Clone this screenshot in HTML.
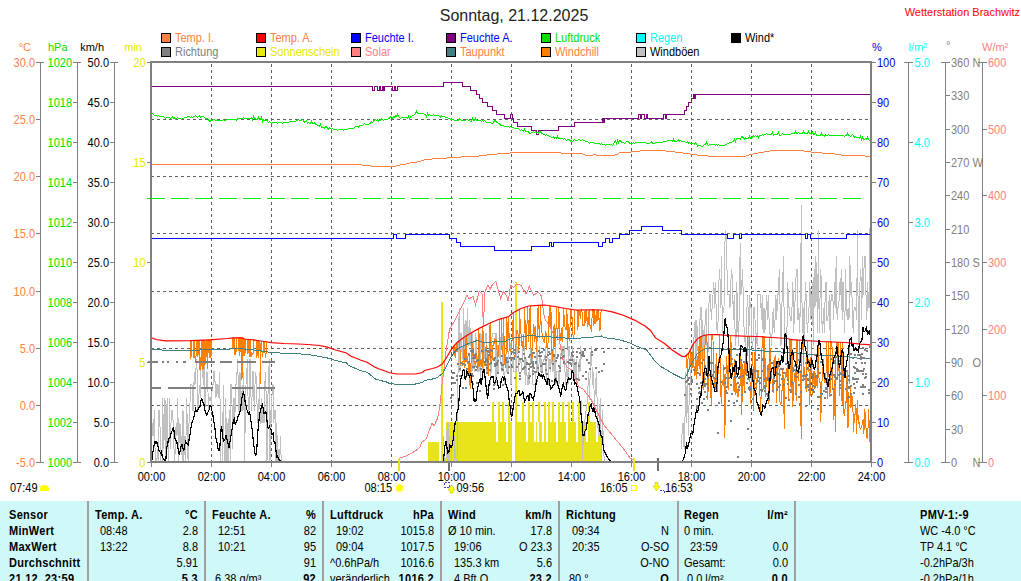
<!DOCTYPE html><html><head><meta charset="utf-8"><title>Wetterstation Brachwitz</title>
<style>html,body{margin:0;padding:0;background:#fff;}body{width:1021px;height:581px;overflow:hidden;}svg{display:block;}text{font-family:"Liberation Sans",sans-serif;}</style>
</head><body>
<svg width="1021" height="581" viewBox="0 0 1021 581">
<rect x="0" y="0" width="1021" height="581" fill="#ffffff"/>
<text x="514" y="21" fill="#222" text-anchor="middle" style="font-size:16px;font-weight:normal" >Sonntag, 21.12.2025</text>
<text x="1020" y="16" fill="#ff0000" text-anchor="end" style="font-size:11px;font-weight:normal" >Wetterstation Brachwitz</text>
<rect x="161.5" y="33.5" width="9" height="9" fill="#ff8040" stroke="#000" stroke-width="1" shape-rendering="crispEdges"/>
<text transform="translate(175,42) scale(1,1.08)" fill="#ff8040" text-anchor="start" style="font-size:11px;font-weight:normal" >Temp. I.</text>
<rect x="256.5" y="33.5" width="9" height="9" fill="#ff0000" stroke="#000" stroke-width="1" shape-rendering="crispEdges"/>
<text transform="translate(270,42) scale(1,1.08)" fill="#ff8040" text-anchor="start" style="font-size:11px;font-weight:normal" >Temp. A.</text>
<rect x="351.5" y="33.5" width="9" height="9" fill="#0000ff" stroke="#000" stroke-width="1" shape-rendering="crispEdges"/>
<text transform="translate(365,42) scale(1,1.08)" fill="#0000ff" text-anchor="start" style="font-size:11px;font-weight:normal" >Feuchte I.</text>
<rect x="446.5" y="33.5" width="9" height="9" fill="#800080" stroke="#000" stroke-width="1" shape-rendering="crispEdges"/>
<text transform="translate(460,42) scale(1,1.08)" fill="#0000ff" text-anchor="start" style="font-size:11px;font-weight:normal" >Feuchte A.</text>
<rect x="541.5" y="33.5" width="9" height="9" fill="#00e000" stroke="#000" stroke-width="1" shape-rendering="crispEdges"/>
<text transform="translate(555,42) scale(1,1.08)" fill="#00e000" text-anchor="start" style="font-size:11px;font-weight:normal" >Luftdruck</text>
<rect x="636.5" y="33.5" width="9" height="9" fill="#00ffff" stroke="#000" stroke-width="1" shape-rendering="crispEdges"/>
<text transform="translate(650,42) scale(1,1.08)" fill="#00ffff" text-anchor="start" style="font-size:11px;font-weight:normal" >Regen</text>
<rect x="731.5" y="33.5" width="9" height="9" fill="#000000" stroke="#000" stroke-width="1" shape-rendering="crispEdges"/>
<text transform="translate(745,42) scale(1,1.08)" fill="#000000" text-anchor="start" style="font-size:11px;font-weight:normal" >Wind*</text>
<rect x="161.5" y="47.5" width="9" height="9" fill="#808080" stroke="#000" stroke-width="1" shape-rendering="crispEdges"/>
<text transform="translate(175,56) scale(1,1.08)" fill="#808080" text-anchor="start" style="font-size:11px;font-weight:normal" >Richtung</text>
<rect x="256.5" y="47.5" width="9" height="9" fill="#e8e818" stroke="#000" stroke-width="1" shape-rendering="crispEdges"/>
<text transform="translate(270,56) scale(1,1.08)" fill="#e6e600" text-anchor="start" style="font-size:11px;font-weight:normal" >Sonnenschein</text>
<rect x="351.5" y="47.5" width="9" height="9" fill="#ff8080" stroke="#000" stroke-width="1" shape-rendering="crispEdges"/>
<text transform="translate(365,56) scale(1,1.08)" fill="#ff8080" text-anchor="start" style="font-size:11px;font-weight:normal" >Solar</text>
<rect x="446.5" y="47.5" width="9" height="9" fill="#408080" stroke="#000" stroke-width="1" shape-rendering="crispEdges"/>
<text transform="translate(460,56) scale(1,1.08)" fill="#ff8040" text-anchor="start" style="font-size:11px;font-weight:normal" >Taupunkt</text>
<rect x="541.5" y="47.5" width="9" height="9" fill="#ff8000" stroke="#000" stroke-width="1" shape-rendering="crispEdges"/>
<text transform="translate(555,56) scale(1,1.08)" fill="#ff8040" text-anchor="start" style="font-size:11px;font-weight:normal" >Windchill</text>
<rect x="636.5" y="47.5" width="9" height="9" fill="#c0c0c0" stroke="#000" stroke-width="1" shape-rendering="crispEdges"/>
<text transform="translate(650,56) scale(1,1.08)" fill="#000000" text-anchor="start" style="font-size:11px;font-weight:normal" >Windböen</text>
<line x1="211.5" y1="62" x2="211.5" y2="462" stroke="#606060" stroke-width="1" shape-rendering="crispEdges" stroke-dasharray="3,3" stroke-dashoffset="4"/>
<line x1="271.5" y1="62" x2="271.5" y2="462" stroke="#606060" stroke-width="1" shape-rendering="crispEdges" stroke-dasharray="3,3" stroke-dashoffset="4"/>
<line x1="331.5" y1="62" x2="331.5" y2="462" stroke="#606060" stroke-width="1" shape-rendering="crispEdges" stroke-dasharray="3,3" stroke-dashoffset="4"/>
<line x1="391.5" y1="62" x2="391.5" y2="462" stroke="#606060" stroke-width="1" shape-rendering="crispEdges" stroke-dasharray="3,3" stroke-dashoffset="4"/>
<line x1="451.5" y1="62" x2="451.5" y2="462" stroke="#606060" stroke-width="1" shape-rendering="crispEdges" stroke-dasharray="3,3" stroke-dashoffset="4"/>
<line x1="511.5" y1="62" x2="511.5" y2="462" stroke="#606060" stroke-width="1" shape-rendering="crispEdges" stroke-dasharray="3,3" stroke-dashoffset="4"/>
<line x1="571.5" y1="62" x2="571.5" y2="462" stroke="#606060" stroke-width="1" shape-rendering="crispEdges" stroke-dasharray="3,3" stroke-dashoffset="4"/>
<line x1="631.5" y1="62" x2="631.5" y2="462" stroke="#606060" stroke-width="1" shape-rendering="crispEdges" stroke-dasharray="3,3" stroke-dashoffset="4"/>
<line x1="691.5" y1="62" x2="691.5" y2="462" stroke="#606060" stroke-width="1" shape-rendering="crispEdges" stroke-dasharray="3,3" stroke-dashoffset="4"/>
<line x1="751.5" y1="62" x2="751.5" y2="462" stroke="#606060" stroke-width="1" shape-rendering="crispEdges" stroke-dasharray="3,3" stroke-dashoffset="4"/>
<line x1="811.5" y1="62" x2="811.5" y2="462" stroke="#606060" stroke-width="1" shape-rendering="crispEdges" stroke-dasharray="3,3" stroke-dashoffset="4"/>
<line x1="151" y1="119.5" x2="871" y2="119.5" stroke="#606060" stroke-width="1" shape-rendering="crispEdges" stroke-dasharray="3,3"/>
<line x1="151" y1="176.5" x2="871" y2="176.5" stroke="#606060" stroke-width="1" shape-rendering="crispEdges" stroke-dasharray="3,3"/>
<line x1="151" y1="233.5" x2="871" y2="233.5" stroke="#606060" stroke-width="1" shape-rendering="crispEdges" stroke-dasharray="3,3"/>
<line x1="151" y1="291.5" x2="871" y2="291.5" stroke="#606060" stroke-width="1" shape-rendering="crispEdges" stroke-dasharray="3,3"/>
<line x1="151" y1="348.5" x2="871" y2="348.5" stroke="#606060" stroke-width="1" shape-rendering="crispEdges" stroke-dasharray="3,3"/>
<line x1="151" y1="405.5" x2="871" y2="405.5" stroke="#606060" stroke-width="1" shape-rendering="crispEdges" stroke-dasharray="3,3"/>
<rect x="428" y="442" width="11" height="20" fill="#e8e418" shape-rendering="crispEdges"/>
<rect x="441" y="302" width="2" height="160" fill="#e8e418" shape-rendering="crispEdges"/>
<rect x="446" y="422" width="66" height="40" fill="#e8e418" shape-rendering="crispEdges"/>
<rect x="515" y="422" width="86" height="40" fill="#e8e418" shape-rendering="crispEdges"/>
<rect x="515" y="282" width="2" height="180" fill="#e8e418" shape-rendering="crispEdges"/>
<rect x="492" y="402" width="2" height="20" fill="#e8e418" shape-rendering="crispEdges"/>
<rect x="498" y="402" width="2" height="20" fill="#e8e418" shape-rendering="crispEdges"/>
<rect x="502" y="402" width="2" height="20" fill="#e8e418" shape-rendering="crispEdges"/>
<rect x="508" y="402" width="2" height="20" fill="#e8e418" shape-rendering="crispEdges"/>
<rect x="522" y="402" width="2" height="20" fill="#e8e418" shape-rendering="crispEdges"/>
<rect x="528" y="402" width="2" height="20" fill="#e8e418" shape-rendering="crispEdges"/>
<rect x="532" y="402" width="2" height="20" fill="#e8e418" shape-rendering="crispEdges"/>
<rect x="538" y="402" width="2" height="20" fill="#e8e418" shape-rendering="crispEdges"/>
<rect x="544" y="402" width="2" height="20" fill="#e8e418" shape-rendering="crispEdges"/>
<rect x="548" y="402" width="2" height="20" fill="#e8e418" shape-rendering="crispEdges"/>
<rect x="552" y="402" width="2" height="20" fill="#e8e418" shape-rendering="crispEdges"/>
<rect x="558" y="402" width="2" height="20" fill="#e8e418" shape-rendering="crispEdges"/>
<rect x="562" y="402" width="2" height="20" fill="#e8e418" shape-rendering="crispEdges"/>
<rect x="568" y="402" width="2" height="20" fill="#e8e418" shape-rendering="crispEdges"/>
<rect x="572" y="402" width="2" height="20" fill="#e8e418" shape-rendering="crispEdges"/>
<rect x="578" y="402" width="2" height="20" fill="#e8e418" shape-rendering="crispEdges"/>
<rect x="588" y="402" width="2" height="20" fill="#e8e418" shape-rendering="crispEdges"/>
<rect x="496" y="422" width="2" height="20" fill="#ffffff" shape-rendering="crispEdges"/>
<rect x="506" y="422" width="2" height="20" fill="#ffffff" shape-rendering="crispEdges"/>
<rect x="526" y="422" width="2" height="20" fill="#ffffff" shape-rendering="crispEdges"/>
<rect x="534" y="422" width="2" height="20" fill="#ffffff" shape-rendering="crispEdges"/>
<rect x="536.5" y="422" width="2" height="20" fill="#ffffff" shape-rendering="crispEdges"/>
<rect x="542" y="422" width="2" height="20" fill="#ffffff" shape-rendering="crispEdges"/>
<rect x="546" y="422" width="2" height="20" fill="#ffffff" shape-rendering="crispEdges"/>
<rect x="556" y="422" width="2" height="20" fill="#ffffff" shape-rendering="crispEdges"/>
<rect x="566" y="422" width="2" height="20" fill="#ffffff" shape-rendering="crispEdges"/>
<rect x="576" y="422" width="2" height="20" fill="#ffffff" shape-rendering="crispEdges"/>
<rect x="586" y="422" width="2" height="20" fill="#ffffff" shape-rendering="crispEdges"/>
<rect x="596" y="422" width="2" height="20" fill="#ffffff" shape-rendering="crispEdges"/>
<path d="M151.5,462.0 L152.2,423.4 L153.0,436.3 L153.8,423.4 L154.5,410.5 L155.2,462.0 L156.0,462.0 L156.8,462.0 L157.5,449.1 L158.2,462.0 L159.0,410.5 L159.8,410.5 L160.5,462.0 L161.2,462.0 L162.0,462.0 L162.8,397.6 L163.5,449.1 L164.2,436.3 L165.0,397.6 L165.8,462.0 L166.5,423.4 L167.2,397.6 L168.0,449.1 L168.8,462.0 L169.5,397.6 L170.2,449.1 L171.0,423.4 L171.8,410.5 L172.5,410.5 L173.2,423.4 L174.0,449.1 L174.8,462.0 L175.5,436.3 L176.2,423.4 L177.0,436.3 L177.8,397.6 L178.5,462.0 L179.2,436.3 L180.0,423.4 L180.8,449.1 L181.5,436.3 L182.2,462.0 L183.0,410.5 L183.8,462.0 L184.5,436.3 L185.2,462.0 L186.0,436.3 L186.8,397.6 L187.5,449.1 L188.2,462.0 L189.0,423.4 L189.8,410.5 L190.5,384.8 L191.2,384.8 L192.0,384.8 L192.8,410.5 L193.5,410.5 L194.2,371.9 L195.0,384.8 L195.8,371.9 L196.5,359.0 L197.2,371.9 L198.0,410.5 L198.8,397.6 L199.5,384.8 L200.2,397.6 L201.0,359.0 L201.8,359.0 L202.5,359.0 L203.2,384.8 L204.0,359.0 L204.8,410.5 L205.5,397.6 L206.2,384.8 L207.0,371.9 L207.8,384.8 L208.5,410.5 L209.2,397.6 L210.0,397.6 L210.8,397.6 L211.5,410.5 L212.2,384.8 L213.0,384.8 L213.8,371.9 L214.5,371.9 L215.2,384.8 L216.0,397.6 L216.8,384.8 L217.5,384.8 L218.2,397.6 L219.0,384.8 L219.8,371.9 L220.5,462.0 L221.2,462.0 L222.0,462.0 L222.8,423.4 L223.5,384.8 L224.2,462.0 L225.0,462.0 L225.8,397.6 L226.5,462.0 L227.2,423.4 L228.0,462.0 L228.8,423.4 L229.5,410.5 L230.2,462.0 L231.0,384.8 L231.8,384.8 L232.5,449.1 L233.2,410.5 L234.0,397.6 L234.8,423.4 L235.5,384.8 L236.2,384.8 L237.0,371.9 L237.8,359.0 L238.5,410.5 L239.2,410.5 L240.0,371.9 L240.8,410.5 L241.5,410.5 L242.2,384.8 L243.0,410.5 L243.8,371.9 L244.5,462.0 L245.2,423.4 L246.0,384.8 L246.8,371.9 L247.5,359.0 L248.2,410.5 L249.0,410.5 L249.8,359.0 L250.5,359.0 L251.2,410.5 L252.0,397.6 L252.8,371.9 L253.5,371.9 L254.2,410.5 L255.0,384.8 L255.8,371.9 L256.5,384.8 L257.2,410.5 L258.0,423.4 L258.8,410.5 L259.5,371.9 L260.2,423.4 L261.0,423.4 L261.8,397.6 L262.5,423.4 L263.2,410.5 L264.0,423.4 L264.8,384.8 L265.5,371.9 L266.2,397.6 L267.0,462.0 L267.8,397.6 L268.5,384.8 L269.2,359.0 L270.0,462.0 L270.8,410.5 L271.5,423.4 L272.2,384.8 L273.0,384.8 L273.8,423.4 L274.5,410.5 L275.2,410.5 L276.0,462.0 L276.8,423.4 L277.5,462.0 L278.2,462.0 L279.0,449.1 L279.8,462.0 L280.5,436.3 L281.2,462.0 L282.0,462.0 L282.8,462.0 L283.5,462.0 L284.2,462.0" fill="none" stroke="#c0c0c0" stroke-width="1" stroke-linejoin="miter" shape-rendering="crispEdges" />
<path d="M443.5,436.3 L444.2,449.1 L445.0,462.0 L445.8,462.0 L446.5,449.1 L447.2,423.4 L448.0,462.0 L448.8,423.4 L449.5,462.0 L450.2,462.0 L451.0,462.0 L451.8,449.1 L452.5,436.3 L453.2,436.3 L454.0,436.3 L454.8,462.0 L455.5,449.1 L456.2,462.0 L457.0,462.0 L457.8,384.8 L458.5,346.2 L459.2,307.6 L460.0,371.9 L460.8,333.3 L461.5,333.3 L462.2,359.0 L463.0,346.2 L463.8,307.6 L464.5,359.0 L465.2,333.3 L466.0,320.4 L466.8,359.0 L467.5,307.6 L468.2,333.3 L469.0,346.2 L469.8,320.4 L470.5,346.2 L471.2,333.3 L472.0,371.9 L472.8,333.3 L473.5,359.0 L474.2,371.9 L475.0,359.0 L475.8,333.3 L476.5,346.2 L477.2,359.0 L478.0,371.9 L478.8,371.9 L479.5,333.3 L480.2,384.8 L481.0,333.3 L481.8,346.2 L482.5,371.9 L483.2,371.9 L484.0,359.0 L484.8,346.2 L485.5,333.3 L486.2,333.3 L487.0,371.9 L487.8,371.9 L488.5,359.0 L489.2,359.0 L490.0,346.2 L490.8,384.8 L491.5,346.2 L492.2,333.3 L493.0,333.3 L493.8,333.3 L494.5,333.3 L495.2,333.3 L496.0,384.8 L496.8,333.3 L497.5,371.9 L498.2,371.9 L499.0,359.0 L499.8,333.3 L500.5,346.2 L501.2,371.9 L502.0,371.9 L502.8,333.3 L503.5,346.2 L504.2,384.8 L505.0,371.9 L505.8,371.9 L506.5,371.9 L507.2,359.0 L508.0,371.9 L508.8,359.0 L509.5,333.3 L510.2,346.2 L511.0,384.8 L511.8,371.9 L512.5,359.0 L513.2,359.0 L514.0,371.9 L514.8,371.9 L515.5,371.9 L516.2,371.9 L517.0,346.2 L517.8,346.2 L518.5,371.9 L519.2,359.0 L520.0,359.0 L520.8,359.0 L521.5,371.9 L522.2,359.0 L523.0,346.2 L523.8,346.2 L524.5,346.2 L525.2,384.8 L526.0,359.0 L526.8,371.9 L527.5,384.8 L528.2,371.9 L529.0,384.8 L529.8,371.9 L530.5,346.2 L531.2,359.0 L532.0,359.0 L532.8,384.8 L533.5,384.8 L534.2,384.8 L535.0,384.8 L535.8,384.8 L536.5,346.2 L537.2,346.2 L538.0,371.9 L538.8,371.9 L539.5,346.2 L540.2,359.0 L541.0,371.9 L541.8,359.0 L542.5,371.9 L543.2,359.0 L544.0,359.0 L544.8,359.0 L545.5,346.2 L546.2,384.8 L547.0,359.0 L547.8,346.2 L548.5,384.8 L549.2,359.0 L550.0,359.0 L550.8,371.9 L551.5,346.2 L552.2,359.0 L553.0,371.9 L553.8,346.2 L554.5,384.8 L555.2,346.2 L556.0,384.8 L556.8,371.9 L557.5,371.9 L558.2,371.9 L559.0,384.8 L559.8,371.9 L560.5,371.9 L561.2,346.2 L562.0,346.2 L562.8,359.0 L563.5,346.2 L564.2,346.2 L565.0,371.9 L565.8,384.8 L566.5,359.0 L567.2,371.9 L568.0,384.8 L568.8,346.2 L569.5,346.2 L570.2,359.0 L571.0,359.0 L571.8,359.0 L572.5,346.2 L573.2,371.9 L574.0,359.0 L574.8,384.8 L575.5,371.9 L576.2,359.0 L577.0,384.8 L577.8,384.8 L578.5,371.9 L579.2,359.0 L580.0,371.9 L580.8,346.2 L581.5,359.0" fill="none" stroke="#c0c0c0" stroke-width="1" stroke-linejoin="miter" shape-rendering="crispEdges" />
<path d="M581.5,400.0 L582.5,462.0 L583.5,430.0 L585.5,415.0 L587.5,400.0 L588.5,372.0 L589.5,400.0 L590.5,359.0 L591.5,346.0 L592.5,385.0 L593.5,372.0 L594.5,405.0 L595.5,385.0 L596.5,372.0 L597.5,420.0 L598.5,436.0 L599.5,410.0 L600.5,398.0 L601.5,462.0 L602.5,410.0 L603.5,449.0 L604.5,462.0" fill="none" stroke="#c0c0c0" stroke-width="1" stroke-linejoin="miter" shape-rendering="crispEdges" />
<path d="M681.5,449.1 L682.4,423.4 L683.2,423.4 L684.1,449.1 L684.9,423.4 L685.8,371.9 L686.6,423.4 L687.5,371.9 L688.3,436.3 L689.2,397.6 L690.0,384.8 L690.9,371.9 L691.7,359.0 L692.6,346.2 L693.4,346.2 L694.3,333.3 L695.1,320.4 L696.0,371.9 L696.8,320.4 L697.7,346.2 L698.5,359.0 L699.4,359.0 L700.2,307.6 L701.1,307.6 L701.9,359.0 L702.8,320.4 L703.6,359.0 L704.5,333.3 L705.3,320.4 L706.2,307.6 L707.0,346.2 L707.9,359.0 L708.7,307.6 L709.6,294.7 L710.4,294.7 L711.3,320.4 L712.1,307.6 L713.0,294.7 L713.8,281.8 L714.7,307.6 L715.5,281.8 L716.4,320.4 L717.2,333.3 L718.1,320.4 L718.9,281.8 L719.8,269.0 L720.6,307.6 L721.5,256.1 L722.3,333.3 L723.2,307.6 L724.0,307.6 L724.9,243.2 L725.7,230.3 L726.6,243.2 L727.4,294.7 L728.3,294.7 L729.1,294.7 L730.0,307.6 L730.8,281.8 L731.7,269.0 L732.5,281.8 L733.4,320.4 L734.2,294.7 L735.1,333.3 L735.9,346.2 L736.8,281.8 L737.6,320.4 L738.5,346.2 L739.3,307.6 L740.2,243.2 L741.0,294.7 L741.9,281.8 L742.7,269.0 L743.6,320.4 L744.4,333.3 L745.3,346.2 L746.1,333.3 L747.0,307.6 L747.8,294.7 L748.7,346.2 L749.5,294.7 L750.4,307.6 L751.2,307.6 L752.1,346.2 L752.9,346.2 L753.8,307.6 L754.6,307.6 L755.5,333.3 L756.3,333.3 L757.2,346.2 L758.0,294.7 L758.9,294.7 L759.7,294.7 L760.6,294.7 L761.4,320.4 L762.3,294.7 L763.1,333.3 L764.0,307.6 L764.8,333.3 L765.7,320.4 L766.5,294.7 L767.4,320.4 L768.2,294.7 L769.1,320.4 L769.9,333.3 L770.8,333.3 L771.6,346.2 L772.5,320.4 L773.3,307.6 L774.2,333.3 L775.0,320.4 L775.9,294.7 L776.7,320.4 L777.6,294.7 L778.4,294.7 L779.3,269.0 L780.1,307.6 L781.0,346.2 L781.8,307.6 L782.7,281.8 L783.5,256.1 L784.4,346.2 L785.2,346.2 L786.1,333.3 L786.9,333.3 L787.8,281.8 L788.6,307.6 L789.5,307.6 L790.3,320.4 L791.2,320.4 L792.0,307.6 L792.9,281.8 L793.7,333.3 L794.6,307.6 L795.4,294.7 L796.3,269.0 L797.1,269.0 L798.0,320.4 L798.8,307.6 L799.7,333.3 L800.5,294.7 L801.4,204.6 L802.2,333.3 L803.1,307.6 L803.9,346.2 L804.8,307.6 L805.6,281.8 L806.5,307.6 L807.3,333.3 L808.2,320.4 L809.0,307.6 L809.9,281.8 L810.7,320.4 L811.6,307.6 L812.4,281.8 L813.3,346.2 L814.1,269.0 L815.0,307.6 L815.8,256.1 L816.7,281.8 L817.5,333.3 L818.4,230.3 L819.2,333.3 L820.1,294.7 L820.9,269.0 L821.8,320.4 L822.6,333.3 L823.5,307.6 L824.3,333.3 L825.2,294.7 L826.0,281.8 L826.9,320.4 L827.7,320.4 L828.6,307.6 L829.4,294.7 L830.3,346.2 L831.1,294.7 L832.0,294.7 L832.8,294.7 L833.7,320.4 L834.5,281.8 L835.4,307.6 L836.2,256.1 L837.1,320.4 L837.9,307.6 L838.8,307.6 L839.6,281.8 L840.5,294.7 L841.3,269.0 L842.2,320.4 L843.0,281.8 L843.9,307.6 L844.7,333.3 L845.6,269.0 L846.4,307.6 L847.3,320.4 L848.1,307.6 L849.0,320.4 L849.8,256.1 L850.7,294.7 L851.5,281.8 L852.4,307.6 L853.2,333.3 L854.1,307.6 L854.9,307.6 L855.8,307.6 L856.6,320.4 L857.5,230.3 L858.3,333.3 L859.2,346.2 L860.0,281.8 L860.9,269.0 L861.7,320.4 L862.6,256.1 L863.4,294.7 L864.3,256.1 L865.1,256.1 L866.0,294.7 L866.8,320.4 L867.7,281.8 L868.5,307.6 L869.4,307.6 L870.2,204.6 L871.1,294.7" fill="none" stroke="#c0c0c0" stroke-width="1" stroke-linejoin="miter" shape-rendering="crispEdges" />
<path d="M189.5,340.7 L190.0,340.7 L190.5,358.5 L191.0,340.7 L191.5,356.7 L192.0,340.6 L192.5,340.6 L193.0,340.6 L193.5,358.1 L194.0,355.3 L194.5,340.5 L195.0,357.9 L195.5,362.5 L196.0,355.9 L196.5,354.8 L197.0,340.4 L197.5,357.3 L198.0,356.0 L198.5,340.3 L199.0,340.3 L199.5,340.3 L200.0,370.3 L200.5,357.1 L201.0,367.2 L201.5,340.2 L202.0,340.2 L202.5,354.4 L203.0,370.1 L203.5,340.1 L204.0,366.1 L204.5,355.2 L205.0,340.0 L205.5,364.0 L206.0,358.0 L206.5,340.0 L207.0,339.9 L207.5,368.9 L208.0,353.9 L208.5,339.9 L209.0,339.9 L209.5,355.2 L210.0,357.7 L210.5,356.7 L211.0,339.7 L211.5,356.4 L212.0,339.7 L212.5,339.6 L213.0,339.6 L213.5,339.5" fill="none" stroke="#ff8000" stroke-width="1" stroke-linejoin="miter" shape-rendering="crispEdges" />
<path d="M232.5,337.9 L233.0,349.0 L233.5,337.8 L234.0,337.8 L234.5,351.8 L235.0,355.1 L235.5,350.2 L236.0,350.7 L236.5,352.3 L237.0,337.8 L237.5,337.8 L238.0,337.8 L238.5,350.8 L239.0,348.4 L239.5,355.8 L240.0,337.8 L240.5,337.8 L241.0,351.8 L241.5,337.8 L242.0,379.8 L242.5,338.0 L243.0,338.2 L243.5,349.7 L244.0,356.2 L244.5,339.0 L245.0,353.1 L245.5,352.6 L246.0,339.1 L246.5,339.2 L247.0,339.2 L247.5,354.3 L248.0,350.1 L248.5,352.7 L249.0,339.4 L249.5,351.5 L250.0,357.3 L250.5,339.6 L251.0,352.1 L251.5,356.8 L252.0,353.1 L252.5,354.2 L253.0,355.0 L253.5,339.9 L254.0,339.9 L254.5,340.0 L255.0,340.1 L255.5,340.2 L256.0,340.2 L256.5,358.2 L257.0,356.4 L257.5,340.5 L258.0,353.3 L258.5,357.6 L259.0,340.7 L259.5,351.2 L260.0,340.8 L260.5,383.9 L261.0,351.0 L261.5,341.1 L262.0,351.8 L262.5,357.2 L263.0,352.8 L263.5,352.4 L264.0,341.5 L264.5,341.5 L265.0,352.6 L265.5,357.9 L266.0,355.0 L266.5,341.9" fill="none" stroke="#ff8000" stroke-width="1" stroke-linejoin="miter" shape-rendering="crispEdges" />
<path d="M452.5,347.6 L453.3,346.7 L454.1,355.5 L454.9,344.9 L455.7,358.0 L456.5,343.1 L457.3,352.3 L458.1,341.7 L458.9,341.1 L459.7,340.5 L460.5,364.7 L461.3,365.7 L462.1,365.8 L462.9,365.9 L463.7,337.5 L464.5,368.0 L465.3,358.8 L466.1,336.0 L466.9,361.6 L467.7,356.0 L468.5,375.9 L469.3,356.4 L470.1,388.5 L470.9,368.3 L471.7,332.6 L472.5,356.4 L473.3,347.9 L474.1,363.2 L474.9,363.3 L475.7,366.9 L476.5,352.9 L477.3,368.8 L478.1,367.0 L478.9,328.6 L479.7,365.8 L480.5,363.0 L481.3,359.2 L482.1,367.7 L482.9,326.5 L483.7,361.4 L484.5,364.8 L485.3,363.9 L486.1,344.7 L486.9,349.7 L487.7,367.6 L488.5,375.7 L489.3,344.0 L490.1,323.0 L490.9,362.8 L491.7,363.9 L492.5,353.6 L493.3,341.0 L494.1,344.2 L494.9,338.2 L495.7,342.1 L496.5,338.7 L497.3,357.3 L498.1,357.0 L498.9,349.1 L499.7,319.1 L500.5,318.8 L501.3,318.6 L502.1,353.4 L502.9,350.8 L503.7,317.9 L504.5,361.7 L505.3,367.5 L506.1,352.4 L506.9,317.0 L507.7,352.0 L508.5,316.6 L509.3,342.3 L510.1,351.6 L510.9,349.9 L511.7,347.2 L512.5,332.4 L513.3,312.7 L514.1,359.2 L514.9,357.6 L515.7,353.6 L516.5,330.6 L517.3,330.5 L518.1,334.3 L518.9,352.3 L519.7,309.2 L520.5,333.5 L521.3,334.2 L522.1,348.0 L522.9,341.5 L523.7,351.2 L524.5,307.3 L525.3,326.3 L526.1,349.8 L526.9,327.4 L527.7,306.3 L528.5,341.6 L529.3,329.6 L530.1,305.9 L530.9,345.3 L531.7,363.8 L532.5,351.5 L533.3,324.3 L534.1,327.7 L534.9,341.8 L535.7,326.1 L536.5,352.2 L537.3,335.3 L538.1,305.3 L538.9,327.2 L539.7,338.3 L540.5,305.2 L541.3,329.6 L542.1,333.8 L542.9,338.7 L543.7,341.0 L544.5,343.1 L545.3,331.4 L546.1,332.8 L546.9,347.7 L547.7,348.7 L548.5,334.3 L549.3,305.7 L550.1,327.3 L550.9,305.9 L551.7,349.1 L552.5,361.1 L553.3,342.8 L554.1,324.3 L554.9,347.3 L555.7,342.8 L556.5,306.8 L557.3,340.0 L558.1,327.7 L558.9,307.2 L559.7,338.7 L560.5,341.2 L561.3,328.4 L562.1,341.9 L562.9,330.7 L563.7,308.2 L564.5,324.7 L565.3,327.6 L566.1,330.3 L566.9,308.7 L567.7,349.6 L568.5,324.5 L569.3,340.6 L570.1,325.5 L570.9,309.3 L571.7,309.4 L572.5,329.4 L573.3,338.6 L574.1,334.7 L574.9,309.8" fill="none" stroke="#ff8000" stroke-width="1" stroke-linejoin="miter" shape-rendering="crispEdges" />
<path d="M575.5,309.9 L576.3,310.0 L577.1,310.0 L577.9,329.5 L578.7,310.0 L579.5,310.0 L580.3,319.2 L581.1,309.9 L581.9,309.9 L582.7,326.4 L583.5,324.5 L584.3,325.1 L585.1,309.9 L585.9,322.9 L586.7,309.9 L587.5,326.5 L588.3,323.8 L589.1,309.8 L589.9,325.3 L590.7,327.1 L591.5,331.5 L592.3,309.8 L593.1,309.8 L593.9,326.4 L594.7,309.8 L595.5,323.6 L596.3,321.3 L597.1,309.9 L597.9,321.4 L598.7,309.9 L599.5,330.4 L600.3,329.2 L601.1,310.0" fill="none" stroke="#ff8000" stroke-width="1" stroke-linejoin="miter" shape-rendering="crispEdges" />
<path d="M686.5,355.2 L687.4,378.1 L688.2,353.8 L689.1,358.4 L689.9,369.9 L690.8,349.0 L691.6,369.5 L692.5,365.2 L693.3,343.9 L694.2,372.4 L695.0,375.6 L695.9,356.4 L696.7,378.6 L697.6,356.5 L698.4,366.2 L699.3,337.5 L700.1,373.0 L701.0,336.7 L701.8,336.3 L702.7,386.9 L703.5,390.4 L704.4,377.9 L705.2,335.2 L706.1,335.1 L706.9,334.9 L707.8,399.8 L708.6,371.2 L709.5,369.4 L710.3,370.0 L711.2,404.6 L712.0,334.6 L712.9,334.6 L713.7,376.1 L714.6,384.5 L715.4,390.1 L716.3,352.8 L717.1,390.6 L718.0,373.8 L718.8,366.9 L719.7,334.9 L720.5,389.2 L721.4,403.8 L722.2,379.7 L723.1,385.9 L723.9,365.5 L724.8,438.2 L725.6,390.2 L726.5,355.6 L727.3,370.3 L728.2,390.0 L729.0,351.8 L729.9,372.6 L730.7,335.6 L731.6,353.0 L732.4,372.5 L733.3,379.3 L734.1,391.9 L735.0,359.4 L735.8,395.3 L736.7,383.3 L737.5,396.8 L738.4,396.3 L739.2,384.0 L740.1,386.3 L740.9,353.0 L741.8,415.1 L742.6,364.1 L743.5,374.0 L744.3,393.3 L745.2,352.6 L746.0,374.6 L746.9,359.6 L747.7,336.3 L748.6,336.3 L749.4,336.3 L750.3,404.1 L751.1,397.4 L752.0,365.9 L752.8,351.9 L753.7,410.8 L754.5,373.7 L755.4,336.5 L756.2,390.2 L757.1,382.0 L757.9,369.9 L758.8,374.9 L759.6,382.6 L760.5,412.7 L761.3,391.6 L762.2,336.8 L763.0,336.9 L763.9,389.6 L764.7,337.0 L765.6,397.1 L766.4,377.0 L767.3,379.4 L768.1,363.6 L769.0,403.5 L769.8,337.3 L770.7,384.2 L771.5,367.9 L772.4,386.4 L773.2,392.6 L774.1,356.9 L774.9,378.4 L775.8,355.3 L776.6,402.8 L777.5,375.2 L778.3,358.3 L779.2,371.5 L780.0,401.7 L780.9,404.5 L781.7,401.3 L782.6,370.5 L783.4,380.1 L784.3,429.3 L785.1,371.6 L786.0,377.6 L786.8,368.4 L787.7,365.4 L788.5,401.2 L789.4,339.1 L790.2,339.3 L791.1,392.6 L791.9,339.7 L792.8,406.9 L793.6,384.2 L794.5,379.2 L795.3,369.1 L796.2,400.7 L797.0,340.0 L797.9,362.2 L798.7,380.7 L799.6,340.2 L800.4,397.4 L801.3,439.3 L802.1,340.4 L803.0,340.4 L803.8,380.3 L804.7,367.1 L805.5,383.7 L806.4,392.3 L807.2,340.7 L808.1,361.4 L808.9,367.8 L809.8,405.0 L810.6,370.6 L811.5,340.9 L812.3,395.4 L813.2,381.2 L814.0,371.2 L814.9,389.3 L815.7,373.0 L816.6,383.7 L817.4,388.0 L818.3,341.4 L819.1,383.2 L820.0,382.0 L820.8,421.5 L821.7,383.9 L822.5,377.3 L823.4,359.5 L824.2,381.9 L825.1,382.8 L825.9,378.0 L826.8,341.8 L827.6,398.8 L828.5,341.8 L829.3,397.0 L830.2,392.2 L831.0,341.9 L831.9,342.0 L832.7,373.6 L833.6,420.4 L834.4,379.8 L835.3,432.1 L836.1,342.1 L837.0,342.2 L837.8,379.8 L838.7,342.2 L839.5,396.2 L840.4,342.3 L841.2,360.3 L842.1,405.1 L842.9,342.4 L843.8,412.5 L844.6,416.3 L845.5,400.8 L846.3,403.3 L847.2,369.7 L848.0,427.5 L848.9,392.1" fill="none" stroke="#ff8000" stroke-width="1" stroke-linejoin="miter" shape-rendering="crispEdges" />
<path d="M849.5,343.0 L850.3,408.2 L851.1,406.2 L851.9,395.4 L852.7,398.3 L853.5,432.1 L854.3,418.6 L855.1,414.0 L855.9,403.7 L856.7,433.7 L857.5,400.4 L858.3,423.9 L859.1,422.6 L859.9,428.2 L860.7,429.2 L861.5,427.2 L862.3,423.2 L863.1,419.2 L863.9,433.5 L864.7,409.1 L865.5,415.2 L866.3,434.4 L867.1,438.9 L867.9,431.0 L868.7,408.8 L869.5,438.3 L870.3,443.9 L871.1,344.9" fill="none" stroke="#ff8000" stroke-width="1" stroke-linejoin="miter" shape-rendering="crispEdges" />
<path d="M399.0,458.5 L407.3,455.5 L412.9,452.4 L419.5,447.9 L421.8,442.3 L426.3,438.9 L429.5,430.0 L431.9,423.3 L434.1,425.5 L437.5,418.5 L439.7,407.5 L442.0,385.2 L444.2,367.3 L445.9,351.5 L449.5,329.5 L454.5,321.0 L459.5,311.1 L464.4,301.3 L466.9,295.1 L469.3,298.8 L473.0,296.4 L475.5,305.0 L479.2,291.5 L482.1,293.9 L483.4,327.2 L484.8,292.5 L487.8,285.3 L490.3,289.0 L492.7,284.0 L495.9,281.5 L498.9,292.5 L500.8,298.8 L503.3,291.5 L506.3,295.1 L508.2,301.3 L510.5,285.3 L513.5,287.5 L517.3,284.0 L521.0,285.3 L526.0,293.9 L529.5,286.5 L533.4,295.1 L538.3,292.5 L540.5,294.5 L541.5,296.5 L544.5,318.5 L548.5,324.5 L553.5,333.5 L559.5,340.5 L562.5,358.5 L567.5,367.5 L572.5,370.5 L578.5,386.5 L583.5,389.5 L590.5,398.5 L597.5,412.5 L603.5,424.5 L612.5,435.5 L622.5,447.5 L630.5,458.5 L634.5,460.5" fill="none" stroke="#ff8080" stroke-width="1" stroke-linejoin="miter" shape-rendering="crispEdges" />
<path d="M151.5,86.5 L372.5,86.5 L372.5,90.5 L374.5,90.5 L374.5,86.5 L377.5,86.5 L377.5,90.5 L379.5,90.5 L379.5,86.5 L380.5,86.5 L380.5,90.5 L382.5,90.5 L382.5,86.5 L383.5,86.5 L383.5,90.5 L384.5,90.5 L384.5,86.5 L392.5,86.5 L392.5,90.5 L394.5,90.5 L394.5,86.5 L395.5,86.5 L395.5,90.5 L397.5,90.5 L397.5,86.5 L443.5,86.5 L443.5,82.5 L462.5,82.5 L462.5,86.5 L470.5,86.5 L470.5,90.5 L476.5,90.5 L476.5,94.5 L479.5,94.5 L479.5,98.5 L482.5,98.5 L482.5,102.5 L487.5,102.5 L487.5,106.5 L492.5,106.5 L492.5,110.5 L496.5,110.5 L496.5,114.5 L504.5,114.5 L504.5,118.5 L510.5,118.5 L510.5,114.5 L512.5,114.5 L512.5,118.5 L513.5,118.5 L513.5,122.5 L517.5,122.5 L517.5,126.5 L531.5,126.5 L531.5,130.5 L536.5,130.5 L536.5,134.5 L538.5,134.5 L538.5,130.5 L558.5,130.5 L558.5,126.5 L574.5,126.5 L574.5,122.5 L602.5,122.5 L602.5,118.5 L603.5,118.5 L603.5,122.5 L604.5,122.5 L604.5,118.5 L638.5,118.5 L638.5,114.5 L640.5,114.5 L640.5,118.5 L641.5,118.5 L641.5,114.5 L644.5,114.5 L644.5,118.5 L646.5,118.5 L646.5,114.5 L647.5,114.5 L647.5,118.5 L663.5,118.5 L663.5,114.5 L665.5,114.5 L665.5,118.5 L666.5,118.5 L666.5,114.5 L684.5,114.5 L684.5,110.5 L686.5,110.5 L686.5,106.5 L688.5,106.5 L688.5,102.5 L691.5,102.5 L691.5,98.5 L693.5,98.5 L693.5,94.5 L694.5,94.5 L694.5,98.5 L695.5,98.5 L695.5,94.5 L871.5,94.5 L871.5,94.5" fill="none" stroke="#800080" stroke-width="1" stroke-linejoin="miter" shape-rendering="crispEdges" />
<path d="M151.5,114.5 L152.5,113.5 L153.5,114.5 L154.5,115.5 L155.5,115.5 L156.5,115.5 L157.5,116.5 L158.5,115.5 L159.5,116.5 L160.5,116.5 L161.5,116.5 L162.5,116.5 L163.5,116.5 L164.5,117.5 L165.5,118.5 L166.5,117.5 L167.5,117.5 L168.5,117.5 L169.5,117.5 L170.5,118.5 L171.5,117.5 L172.5,116.5 L173.5,118.5 L174.5,117.5 L175.5,119.5 L176.5,118.5 L177.5,117.5 L178.5,118.5 L179.5,118.5 L180.5,118.5 L181.5,119.5 L182.5,118.5 L183.5,118.5 L184.5,117.5 L185.5,117.5 L186.5,117.5 L187.5,116.5 L188.5,116.5 L189.5,116.5 L190.5,117.5 L191.5,116.5 L192.5,117.5 L193.5,116.5 L194.5,116.5 L195.5,115.5 L196.5,116.5 L197.5,117.5 L198.5,116.5 L199.5,115.5 L200.5,117.5 L201.5,116.5 L202.5,116.5 L203.5,116.5 L204.5,117.5 L205.5,118.5 L206.5,118.5 L207.5,118.5 L208.5,119.5 L209.5,121.5 L210.5,121.5 L211.5,119.5 L212.5,120.5 L213.5,119.5 L214.5,119.5 L215.5,120.5 L216.5,120.5 L217.5,120.5 L218.5,120.5 L219.5,120.5 L220.5,120.5 L221.5,120.5 L222.5,120.5 L223.5,119.5 L224.5,120.5 L225.5,120.5 L226.5,119.5 L227.5,119.5 L228.5,119.5 L229.5,119.5 L230.5,119.5 L231.5,119.5 L232.5,119.5 L233.5,119.5 L234.5,119.5 L235.5,119.5 L236.5,120.5 L237.5,118.5 L238.5,118.5 L239.5,118.5 L240.5,118.5 L241.5,118.5 L242.5,118.5 L243.5,117.5 L244.5,118.5 L245.5,118.5 L246.5,118.5 L247.5,118.5 L248.5,118.5 L249.5,118.5 L250.5,118.5 L251.5,117.5 L252.5,119.5 L253.5,116.5 L254.5,118.5 L255.5,118.5 L256.5,119.5 L257.5,119.5 L258.5,117.5 L259.5,119.5 L260.5,119.5 L261.5,117.5 L262.5,121.5 L263.5,119.5 L264.5,120.5 L265.5,120.5 L266.5,119.5 L267.5,121.5 L268.5,122.5 L269.5,121.5 L270.5,122.5 L271.5,123.5 L272.5,122.5 L273.5,122.5 L274.5,122.5 L275.5,122.5 L276.5,122.5 L277.5,123.5 L278.5,122.5 L279.5,122.5 L280.5,122.5 L281.5,122.5 L282.5,123.5 L283.5,122.5 L284.5,122.5 L285.5,122.5 L286.5,122.5 L287.5,122.5 L288.5,122.5 L289.5,121.5 L290.5,121.5 L291.5,121.5 L292.5,121.5 L293.5,121.5 L294.5,121.5 L295.5,121.5 L296.5,120.5 L297.5,120.5 L298.5,119.5 L299.5,120.5 L300.5,120.5 L301.5,120.5 L302.5,119.5 L303.5,120.5 L304.5,122.5 L305.5,121.5 L306.5,120.5 L307.5,123.5 L308.5,122.5 L309.5,123.5 L310.5,123.5 L311.5,121.5 L312.5,123.5 L313.5,123.5 L314.5,122.5 L315.5,124.5 L316.5,124.5 L317.5,125.5 L318.5,125.5 L319.5,126.5 L320.5,124.5 L321.5,127.5 L322.5,127.5 L323.5,127.5 L324.5,128.5 L325.5,126.5 L326.5,126.5 L327.5,128.5 L328.5,129.5 L329.5,127.5 L330.5,128.5 L331.5,129.5 L332.5,128.5 L333.5,129.5 L334.5,129.5 L335.5,129.5 L336.5,129.5 L337.5,130.5 L338.5,129.5 L339.5,129.5 L340.5,129.5 L341.5,129.5 L342.5,129.5 L343.5,130.5 L344.5,129.5 L345.5,129.5 L346.5,129.5 L347.5,129.5 L348.5,128.5 L349.5,128.5 L350.5,128.5 L351.5,128.5 L352.5,128.5 L353.5,128.5 L354.5,127.5 L355.5,126.5 L356.5,126.5 L357.5,126.5 L358.5,127.5 L359.5,125.5 L360.5,125.5 L361.5,125.5 L362.5,125.5 L363.5,124.5 L364.5,123.5 L365.5,124.5 L366.5,124.5 L367.5,124.5 L368.5,124.5 L369.5,123.5 L370.5,123.5 L371.5,121.5 L372.5,122.5 L373.5,121.5 L374.5,119.5 L375.5,119.5 L376.5,120.5 L377.5,119.5 L378.5,121.5 L379.5,120.5 L380.5,120.5 L381.5,118.5 L382.5,119.5 L383.5,120.5 L384.5,119.5 L385.5,119.5 L386.5,119.5 L387.5,119.5 L388.5,118.5 L389.5,118.5 L390.5,116.5 L391.5,117.5 L392.5,118.5 L393.5,116.5 L394.5,117.5 L395.5,115.5 L396.5,116.5 L397.5,114.5 L398.5,116.5 L399.5,117.5 L400.5,118.5 L401.5,117.5 L402.5,117.5 L403.5,117.5 L404.5,117.5 L405.5,117.5 L406.5,117.5 L407.5,118.5 L408.5,116.5 L409.5,118.5 L410.5,116.5 L411.5,116.5 L412.5,115.5 L413.5,115.5 L414.5,114.5 L415.5,113.5 L416.5,111.5 L417.5,113.5 L418.5,113.5 L419.5,113.5 L420.5,113.5 L421.5,113.5 L422.5,113.5 L423.5,113.5 L424.5,114.5 L425.5,114.5 L426.5,116.5 L427.5,113.5 L428.5,115.5 L429.5,114.5 L430.5,115.5 L431.5,115.5 L432.5,115.5 L433.5,114.5 L434.5,115.5 L435.5,115.5 L436.5,115.5 L437.5,115.5 L438.5,115.5 L439.5,116.5 L440.5,117.5 L441.5,115.5 L442.5,116.5 L443.5,116.5 L444.5,116.5 L445.5,117.5 L446.5,117.5 L447.5,117.5 L448.5,118.5 L449.5,118.5 L450.5,119.5 L451.5,119.5 L452.5,119.5 L453.5,119.5 L454.5,120.5 L455.5,120.5 L456.5,120.5 L457.5,120.5 L458.5,120.5 L459.5,118.5 L460.5,119.5 L461.5,120.5 L462.5,120.5 L463.5,120.5 L464.5,120.5 L465.5,120.5 L466.5,119.5 L467.5,119.5 L468.5,120.5 L469.5,120.5 L470.5,121.5 L471.5,121.5 L472.5,118.5 L473.5,120.5 L474.5,120.5 L475.5,118.5 L476.5,120.5 L477.5,120.5 L478.5,120.5 L479.5,120.5 L480.5,120.5 L481.5,121.5 L482.5,120.5 L483.5,121.5 L484.5,120.5 L485.5,121.5 L486.5,122.5 L487.5,122.5 L488.5,122.5 L489.5,122.5 L490.5,122.5 L491.5,123.5 L492.5,123.5 L493.5,122.5 L494.5,120.5 L495.5,120.5 L496.5,122.5 L497.5,122.5 L498.5,123.5 L499.5,123.5 L500.5,125.5 L501.5,125.5 L502.5,125.5 L503.5,125.5 L504.5,126.5 L505.5,126.5 L506.5,126.5 L507.5,126.5 L508.5,126.5 L509.5,127.5 L510.5,126.5 L511.5,127.5 L512.5,127.5 L513.5,127.5 L514.5,128.5 L515.5,128.5 L516.5,128.5 L517.5,128.5 L518.5,128.5 L519.5,129.5 L520.5,130.5 L521.5,129.5 L522.5,130.5 L523.5,131.5 L524.5,129.5 L525.5,131.5 L526.5,131.5 L527.5,131.5 L528.5,131.5 L529.5,133.5 L530.5,133.5 L531.5,132.5 L532.5,132.5 L533.5,131.5 L534.5,132.5 L535.5,131.5 L536.5,132.5 L537.5,132.5 L538.5,133.5 L539.5,131.5 L540.5,131.5 L541.5,133.5 L542.5,133.5 L543.5,134.5 L544.5,134.5 L545.5,135.5 L546.5,134.5 L547.5,135.5 L548.5,135.5 L549.5,136.5 L550.5,136.5 L551.5,137.5 L552.5,137.5 L553.5,136.5 L554.5,138.5 L555.5,137.5 L556.5,138.5 L557.5,136.5 L558.5,138.5 L559.5,138.5 L560.5,138.5 L561.5,138.5 L562.5,138.5 L563.5,139.5 L564.5,138.5 L565.5,139.5 L566.5,140.5 L567.5,139.5 L568.5,139.5 L569.5,139.5 L570.5,141.5 L571.5,140.5 L572.5,141.5 L573.5,140.5 L574.5,139.5 L575.5,140.5 L576.5,140.5 L577.5,140.5 L578.5,139.5 L579.5,139.5 L580.5,140.5 L581.5,140.5 L582.5,139.5 L583.5,140.5 L584.5,140.5 L585.5,141.5 L586.5,141.5 L587.5,141.5 L588.5,142.5 L589.5,143.5 L590.5,142.5 L591.5,142.5 L592.5,142.5 L593.5,142.5 L594.5,143.5 L595.5,143.5 L596.5,143.5 L597.5,143.5 L598.5,143.5 L599.5,143.5 L600.5,144.5 L601.5,143.5 L602.5,144.5 L603.5,144.5 L604.5,144.5 L605.5,145.5 L606.5,144.5 L607.5,144.5 L608.5,144.5 L609.5,144.5 L610.5,144.5 L611.5,144.5 L612.5,145.5 L613.5,144.5 L614.5,141.5 L615.5,140.5 L616.5,143.5 L617.5,140.5 L618.5,142.5 L619.5,140.5 L620.5,140.5 L621.5,142.5 L622.5,142.5 L623.5,142.5 L624.5,143.5 L625.5,142.5 L626.5,141.5 L627.5,141.5 L628.5,141.5 L629.5,143.5 L630.5,143.5 L631.5,143.5 L632.5,143.5 L633.5,142.5 L634.5,143.5 L635.5,142.5 L636.5,142.5 L637.5,142.5 L638.5,142.5 L639.5,142.5 L640.5,142.5 L641.5,142.5 L642.5,142.5 L643.5,142.5 L644.5,142.5 L645.5,142.5 L646.5,143.5 L647.5,143.5 L648.5,143.5 L649.5,143.5 L650.5,142.5 L651.5,141.5 L652.5,143.5 L653.5,143.5 L654.5,143.5 L655.5,142.5 L656.5,142.5 L657.5,142.5 L658.5,142.5 L659.5,142.5 L660.5,142.5 L661.5,142.5 L662.5,142.5 L663.5,141.5 L664.5,141.5 L665.5,141.5 L666.5,141.5 L667.5,140.5 L668.5,140.5 L669.5,140.5 L670.5,140.5 L671.5,140.5 L672.5,141.5 L673.5,139.5 L674.5,141.5 L675.5,141.5 L676.5,141.5 L677.5,140.5 L678.5,139.5 L679.5,141.5 L680.5,140.5 L681.5,141.5 L682.5,141.5 L683.5,141.5 L684.5,141.5 L685.5,142.5 L686.5,142.5 L687.5,141.5 L688.5,143.5 L689.5,142.5 L690.5,143.5 L691.5,143.5 L692.5,143.5 L693.5,143.5 L694.5,144.5 L695.5,142.5 L696.5,143.5 L697.5,146.5 L698.5,145.5 L699.5,145.5 L700.5,145.5 L701.5,146.5 L702.5,146.5 L703.5,145.5 L704.5,144.5 L705.5,144.5 L706.5,142.5 L707.5,144.5 L708.5,145.5 L709.5,144.5 L710.5,144.5 L711.5,144.5 L712.5,144.5 L713.5,144.5 L714.5,144.5 L715.5,145.5 L716.5,144.5 L717.5,145.5 L718.5,144.5 L719.5,145.5 L720.5,145.5 L721.5,145.5 L722.5,145.5 L723.5,145.5 L724.5,145.5 L725.5,144.5 L726.5,144.5 L727.5,143.5 L728.5,143.5 L729.5,142.5 L730.5,142.5 L731.5,142.5 L732.5,141.5 L733.5,141.5 L734.5,139.5 L735.5,141.5 L736.5,138.5 L737.5,138.5 L738.5,138.5 L739.5,138.5 L740.5,139.5 L741.5,136.5 L742.5,136.5 L743.5,138.5 L744.5,139.5 L745.5,137.5 L746.5,138.5 L747.5,138.5 L748.5,138.5 L749.5,136.5 L750.5,138.5 L751.5,137.5 L752.5,137.5 L753.5,135.5 L754.5,136.5 L755.5,135.5 L756.5,136.5 L757.5,135.5 L758.5,137.5 L759.5,135.5 L760.5,135.5 L761.5,135.5 L762.5,134.5 L763.5,135.5 L764.5,134.5 L765.5,134.5 L766.5,133.5 L767.5,134.5 L768.5,134.5 L769.5,134.5 L770.5,134.5 L771.5,134.5 L772.5,132.5 L773.5,135.5 L774.5,134.5 L775.5,134.5 L776.5,134.5 L777.5,134.5 L778.5,132.5 L779.5,135.5 L780.5,135.5 L781.5,134.5 L782.5,133.5 L783.5,134.5 L784.5,134.5 L785.5,134.5 L786.5,134.5 L787.5,134.5 L788.5,134.5 L789.5,134.5 L790.5,134.5 L791.5,133.5 L792.5,133.5 L793.5,133.5 L794.5,133.5 L795.5,131.5 L796.5,133.5 L797.5,133.5 L798.5,132.5 L799.5,133.5 L800.5,133.5 L801.5,133.5 L802.5,133.5 L803.5,131.5 L804.5,133.5 L805.5,133.5 L806.5,133.5 L807.5,133.5 L808.5,131.5 L809.5,133.5 L810.5,133.5 L811.5,134.5 L812.5,132.5 L813.5,134.5 L814.5,134.5 L815.5,132.5 L816.5,135.5 L817.5,135.5 L818.5,135.5 L819.5,135.5 L820.5,135.5 L821.5,133.5 L822.5,135.5 L823.5,135.5 L824.5,136.5 L825.5,134.5 L826.5,135.5 L827.5,135.5 L828.5,134.5 L829.5,135.5 L830.5,135.5 L831.5,135.5 L832.5,135.5 L833.5,135.5 L834.5,135.5 L835.5,135.5 L836.5,135.5 L837.5,135.5 L838.5,135.5 L839.5,135.5 L840.5,135.5 L841.5,135.5 L842.5,135.5 L843.5,135.5 L844.5,136.5 L845.5,135.5 L846.5,135.5 L847.5,133.5 L848.5,135.5 L849.5,135.5 L850.5,136.5 L851.5,135.5 L852.5,134.5 L853.5,135.5 L854.5,137.5 L855.5,136.5 L856.5,137.5 L857.5,137.5 L858.5,137.5 L859.5,138.5 L860.5,136.5 L861.5,139.5 L862.5,137.5 L863.5,139.5 L864.5,139.5 L865.5,138.5 L866.5,139.5 L867.5,137.5 L868.5,139.5 L869.5,140.5 L870.5,139.5 L871.5,138.5" fill="none" stroke="#00ee00" stroke-width="1" stroke-linejoin="miter" shape-rendering="crispEdges" />
<path d="M151.5,164.5 L152.5,164.5 L153.5,164.5 L154.5,164.5 L155.5,164.5 L156.5,164.5 L157.5,164.5 L158.5,164.5 L159.5,164.5 L160.5,164.5 L161.5,164.5 L162.5,164.5 L163.5,164.5 L164.5,164.5 L165.5,164.5 L166.5,164.5 L167.5,164.5 L168.5,164.5 L169.5,164.5 L170.5,164.5 L171.5,164.5 L172.5,164.5 L173.5,164.5 L174.5,164.5 L175.5,164.5 L176.5,164.5 L177.5,164.5 L178.5,164.5 L179.5,164.5 L180.5,164.5 L181.5,164.5 L182.5,164.5 L183.5,164.5 L184.5,164.5 L185.5,164.5 L186.5,164.5 L187.5,164.5 L188.5,164.5 L189.5,164.5 L190.5,164.5 L191.5,164.5 L192.5,164.5 L193.5,164.5 L194.5,164.5 L195.5,164.5 L196.5,164.5 L197.5,164.5 L198.5,164.5 L199.5,164.5 L200.5,164.5 L201.5,164.5 L202.5,164.5 L203.5,164.5 L204.5,164.5 L205.5,164.5 L206.5,164.5 L207.5,164.5 L208.5,164.5 L209.5,164.5 L210.5,164.5 L211.5,164.5 L212.5,164.5 L213.5,164.5 L214.5,164.5 L215.5,164.5 L216.5,164.5 L217.5,164.5 L218.5,164.5 L219.5,164.5 L220.5,164.5 L221.5,164.5 L222.5,164.5 L223.5,164.5 L224.5,164.5 L225.5,164.5 L226.5,164.5 L227.5,164.5 L228.5,164.5 L229.5,164.5 L230.5,164.5 L231.5,164.5 L232.5,164.5 L233.5,164.5 L234.5,164.5 L235.5,164.5 L236.5,164.5 L237.5,164.5 L238.5,164.5 L239.5,164.5 L240.5,164.5 L241.5,164.5 L242.5,164.5 L243.5,164.5 L244.5,164.5 L245.5,164.5 L246.5,164.5 L247.5,164.5 L248.5,164.5 L249.5,164.5 L250.5,164.5 L251.5,164.5 L252.5,164.5 L253.5,164.5 L254.5,164.5 L255.5,164.5 L256.5,164.5 L257.5,164.5 L258.5,164.5 L259.5,164.5 L260.5,164.5 L261.5,164.5 L262.5,164.5 L263.5,164.5 L264.5,164.5 L265.5,164.5 L266.5,164.5 L267.5,164.5 L268.5,164.5 L269.5,164.5 L270.5,164.5 L271.5,164.5 L272.5,164.5 L273.5,164.5 L274.5,164.5 L275.5,164.5 L276.5,164.5 L277.5,164.5 L278.5,164.5 L279.5,164.5 L280.5,164.5 L281.5,164.5 L282.5,164.5 L283.5,164.5 L284.5,164.5 L285.5,164.5 L286.5,164.5 L287.5,164.5 L288.5,164.5 L289.5,164.5 L290.5,164.5 L291.5,164.5 L292.5,164.5 L293.5,164.5 L294.5,164.5 L295.5,164.5 L296.5,164.5 L297.5,164.5 L298.5,164.5 L299.5,164.5 L300.5,164.5 L301.5,164.5 L302.5,164.5 L303.5,164.5 L304.5,164.5 L305.5,164.5 L306.5,164.5 L307.5,164.5 L308.5,164.5 L309.5,164.5 L310.5,164.5 L311.5,164.5 L312.5,164.5 L313.5,164.5 L314.5,164.5 L315.5,164.5 L316.5,164.5 L317.5,164.5 L318.5,164.5 L319.5,164.5 L320.5,164.5 L321.5,164.5 L322.5,164.5 L323.5,164.5 L324.5,164.5 L325.5,164.5 L326.5,164.5 L327.5,164.5 L328.5,164.5 L329.5,164.5 L330.5,164.5 L331.5,164.5 L332.5,164.5 L333.5,164.5 L334.5,164.5 L335.5,164.5 L336.5,164.5 L337.5,164.5 L338.5,164.5 L339.5,164.5 L340.5,164.5 L341.5,164.5 L342.5,164.5 L343.5,164.5 L344.5,164.5 L345.5,164.5 L346.5,164.5 L347.5,164.5 L348.5,164.5 L349.5,164.5 L350.5,164.5 L351.5,164.5 L352.5,164.5 L353.5,164.5 L354.5,164.5 L355.5,164.5 L356.5,164.5 L357.5,164.5 L358.5,164.5 L359.5,164.5 L360.5,164.5 L361.5,164.5 L362.5,165.5 L363.5,165.5 L364.5,165.5 L365.5,165.5 L366.5,165.5 L367.5,165.5 L368.5,165.5 L369.5,165.5 L370.5,165.5 L371.5,166.5 L372.5,166.5 L373.5,166.5 L374.5,166.5 L375.5,166.5 L376.5,166.5 L377.5,166.5 L378.5,166.5 L379.5,166.5 L380.5,166.5 L381.5,166.5 L382.5,166.5 L383.5,166.5 L384.5,166.5 L385.5,166.5 L386.5,166.5 L387.5,166.5 L388.5,166.5 L389.5,166.5 L390.5,166.5 L391.5,166.5 L392.5,166.5 L393.5,166.5 L394.5,166.5 L395.5,166.5 L396.5,165.5 L397.5,165.5 L398.5,165.5 L399.5,165.5 L400.5,164.5 L401.5,164.5 L402.5,164.5 L403.5,164.5 L404.5,164.5 L405.5,164.5 L406.5,163.5 L407.5,163.5 L408.5,163.5 L409.5,163.5 L410.5,162.5 L411.5,162.5 L412.5,162.5 L413.5,162.5 L414.5,162.5 L415.5,162.5 L416.5,162.5 L417.5,161.5 L418.5,161.5 L419.5,161.5 L420.5,161.5 L421.5,160.5 L422.5,160.5 L423.5,160.5 L424.5,159.5 L425.5,159.5 L426.5,159.5 L427.5,159.5 L428.5,159.5 L429.5,159.5 L430.5,159.5 L431.5,159.5 L432.5,158.5 L433.5,158.5 L434.5,158.5 L435.5,158.5 L436.5,158.5 L437.5,158.5 L438.5,158.5 L439.5,158.5 L440.5,158.5 L441.5,158.5 L442.5,158.5 L443.5,158.5 L444.5,158.5 L445.5,158.5 L446.5,158.5 L447.5,157.5 L448.5,157.5 L449.5,157.5 L450.5,157.5 L451.5,157.5 L452.5,157.5 L453.5,157.5 L454.5,157.5 L455.5,157.5 L456.5,157.5 L457.5,157.5 L458.5,157.5 L459.5,157.5 L460.5,157.5 L461.5,156.5 L462.5,156.5 L463.5,156.5 L464.5,156.5 L465.5,156.5 L466.5,156.5 L467.5,156.5 L468.5,156.5 L469.5,156.5 L470.5,156.5 L471.5,156.5 L472.5,156.5 L473.5,156.5 L474.5,156.5 L475.5,156.5 L476.5,156.5 L477.5,156.5 L478.5,156.5 L479.5,155.5 L480.5,155.5 L481.5,155.5 L482.5,155.5 L483.5,155.5 L484.5,155.5 L485.5,155.5 L486.5,155.5 L487.5,154.5 L488.5,154.5 L489.5,154.5 L490.5,154.5 L491.5,154.5 L492.5,154.5 L493.5,154.5 L494.5,154.5 L495.5,154.5 L496.5,154.5 L497.5,153.5 L498.5,153.5 L499.5,153.5 L500.5,153.5 L501.5,153.5 L502.5,153.5 L503.5,153.5 L504.5,153.5 L505.5,153.5 L506.5,153.5 L507.5,153.5 L508.5,153.5 L509.5,153.5 L510.5,152.5 L511.5,152.5 L512.5,152.5 L513.5,152.5 L514.5,152.5 L515.5,152.5 L516.5,152.5 L517.5,152.5 L518.5,152.5 L519.5,152.5 L520.5,152.5 L521.5,152.5 L522.5,152.5 L523.5,152.5 L524.5,152.5 L525.5,152.5 L526.5,152.5 L527.5,152.5 L528.5,152.5 L529.5,152.5 L530.5,152.5 L531.5,152.5 L532.5,152.5 L533.5,152.5 L534.5,152.5 L535.5,152.5 L536.5,152.5 L537.5,152.5 L538.5,152.5 L539.5,152.5 L540.5,152.5 L541.5,152.5 L542.5,152.5 L543.5,152.5 L544.5,152.5 L545.5,152.5 L546.5,152.5 L547.5,152.5 L548.5,152.5 L549.5,152.5 L550.5,152.5 L551.5,152.5 L552.5,152.5 L553.5,152.5 L554.5,152.5 L555.5,152.5 L556.5,152.5 L557.5,152.5 L558.5,152.5 L559.5,152.5 L560.5,152.5 L561.5,153.5 L562.5,153.5 L563.5,153.5 L564.5,153.5 L565.5,153.5 L566.5,153.5 L567.5,153.5 L568.5,153.5 L569.5,153.5 L570.5,153.5 L571.5,153.5 L572.5,153.5 L573.5,153.5 L574.5,153.5 L575.5,153.5 L576.5,153.5 L577.5,153.5 L578.5,153.5 L579.5,153.5 L580.5,153.5 L581.5,153.5 L582.5,153.5 L583.5,154.5 L584.5,154.5 L585.5,155.5 L586.5,155.5 L587.5,155.5 L588.5,155.5 L589.5,155.5 L590.5,155.5 L591.5,155.5 L592.5,155.5 L593.5,154.5 L594.5,154.5 L595.5,154.5 L596.5,155.5 L597.5,155.5 L598.5,155.5 L599.5,155.5 L600.5,155.5 L601.5,155.5 L602.5,155.5 L603.5,155.5 L604.5,155.5 L605.5,155.5 L606.5,155.5 L607.5,155.5 L608.5,155.5 L609.5,155.5 L610.5,155.5 L611.5,155.5 L612.5,155.5 L613.5,155.5 L614.5,155.5 L615.5,154.5 L616.5,154.5 L617.5,154.5 L618.5,153.5 L619.5,152.5 L620.5,152.5 L621.5,152.5 L622.5,152.5 L623.5,152.5 L624.5,152.5 L625.5,152.5 L626.5,152.5 L627.5,152.5 L628.5,152.5 L629.5,152.5 L630.5,152.5 L631.5,151.5 L632.5,151.5 L633.5,151.5 L634.5,151.5 L635.5,151.5 L636.5,151.5 L637.5,151.5 L638.5,151.5 L639.5,151.5 L640.5,150.5 L641.5,150.5 L642.5,150.5 L643.5,150.5 L644.5,150.5 L645.5,150.5 L646.5,150.5 L647.5,150.5 L648.5,150.5 L649.5,150.5 L650.5,150.5 L651.5,150.5 L652.5,150.5 L653.5,150.5 L654.5,150.5 L655.5,150.5 L656.5,150.5 L657.5,150.5 L658.5,150.5 L659.5,150.5 L660.5,150.5 L661.5,150.5 L662.5,150.5 L663.5,150.5 L664.5,150.5 L665.5,150.5 L666.5,151.5 L667.5,151.5 L668.5,151.5 L669.5,151.5 L670.5,151.5 L671.5,151.5 L672.5,151.5 L673.5,151.5 L674.5,151.5 L675.5,152.5 L676.5,152.5 L677.5,152.5 L678.5,152.5 L679.5,152.5 L680.5,152.5 L681.5,152.5 L682.5,152.5 L683.5,153.5 L684.5,153.5 L685.5,153.5 L686.5,153.5 L687.5,153.5 L688.5,153.5 L689.5,153.5 L690.5,154.5 L691.5,154.5 L692.5,154.5 L693.5,154.5 L694.5,154.5 L695.5,154.5 L696.5,154.5 L697.5,155.5 L698.5,155.5 L699.5,155.5 L700.5,155.5 L701.5,155.5 L702.5,155.5 L703.5,155.5 L704.5,155.5 L705.5,155.5 L706.5,155.5 L707.5,155.5 L708.5,156.5 L709.5,156.5 L710.5,156.5 L711.5,156.5 L712.5,156.5 L713.5,156.5 L714.5,156.5 L715.5,156.5 L716.5,156.5 L717.5,156.5 L718.5,156.5 L719.5,156.5 L720.5,156.5 L721.5,156.5 L722.5,156.5 L723.5,156.5 L724.5,156.5 L725.5,156.5 L726.5,156.5 L727.5,156.5 L728.5,156.5 L729.5,156.5 L730.5,156.5 L731.5,156.5 L732.5,156.5 L733.5,156.5 L734.5,156.5 L735.5,156.5 L736.5,156.5 L737.5,156.5 L738.5,156.5 L739.5,156.5 L740.5,156.5 L741.5,156.5 L742.5,156.5 L743.5,156.5 L744.5,156.5 L745.5,156.5 L746.5,155.5 L747.5,155.5 L748.5,155.5 L749.5,154.5 L750.5,154.5 L751.5,154.5 L752.5,154.5 L753.5,153.5 L754.5,153.5 L755.5,153.5 L756.5,153.5 L757.5,153.5 L758.5,152.5 L759.5,152.5 L760.5,152.5 L761.5,152.5 L762.5,152.5 L763.5,152.5 L764.5,151.5 L765.5,151.5 L766.5,151.5 L767.5,151.5 L768.5,151.5 L769.5,151.5 L770.5,150.5 L771.5,150.5 L772.5,150.5 L773.5,150.5 L774.5,150.5 L775.5,150.5 L776.5,150.5 L777.5,150.5 L778.5,150.5 L779.5,150.5 L780.5,150.5 L781.5,150.5 L782.5,150.5 L783.5,150.5 L784.5,150.5 L785.5,150.5 L786.5,150.5 L787.5,150.5 L788.5,150.5 L789.5,150.5 L790.5,150.5 L791.5,150.5 L792.5,150.5 L793.5,150.5 L794.5,150.5 L795.5,150.5 L796.5,150.5 L797.5,150.5 L798.5,150.5 L799.5,150.5 L800.5,150.5 L801.5,150.5 L802.5,150.5 L803.5,150.5 L804.5,151.5 L805.5,151.5 L806.5,151.5 L807.5,151.5 L808.5,151.5 L809.5,151.5 L810.5,151.5 L811.5,152.5 L812.5,152.5 L813.5,152.5 L814.5,152.5 L815.5,152.5 L816.5,152.5 L817.5,152.5 L818.5,152.5 L819.5,152.5 L820.5,152.5 L821.5,152.5 L822.5,153.5 L823.5,153.5 L824.5,153.5 L825.5,153.5 L826.5,153.5 L827.5,153.5 L828.5,153.5 L829.5,153.5 L830.5,153.5 L831.5,153.5 L832.5,153.5 L833.5,153.5 L834.5,153.5 L835.5,154.5 L836.5,154.5 L837.5,154.5 L838.5,154.5 L839.5,154.5 L840.5,154.5 L841.5,155.5 L842.5,155.5 L843.5,155.5 L844.5,155.5 L845.5,155.5 L846.5,155.5 L847.5,155.5 L848.5,155.5 L849.5,155.5 L850.5,155.5 L851.5,155.5 L852.5,155.5 L853.5,155.5 L854.5,155.5 L855.5,155.5 L856.5,155.5 L857.5,155.5 L858.5,155.5 L859.5,155.5 L860.5,155.5 L861.5,155.5 L862.5,155.5 L863.5,155.5 L864.5,155.5 L865.5,156.5 L866.5,156.5 L867.5,156.5 L868.5,156.5 L869.5,156.5 L870.5,156.5 L871.5,156.5" fill="none" stroke="#ff8040" stroke-width="1" stroke-linejoin="miter" shape-rendering="crispEdges" />
<line x1="147" y1="198.5" x2="862" y2="198.5" stroke="#00ee00" stroke-width="1" stroke-dasharray="18,6" shape-rendering="crispEdges"/>
<path d="M151.5,238.5 L393.5,238.5 L393.5,234.5 L396.5,234.5 L396.5,238.5 L405.5,238.5 L405.5,234.5 L449.5,234.5 L449.5,238.5 L456.5,238.5 L456.5,242.5 L460.5,242.5 L460.5,246.5 L494.5,246.5 L494.5,250.5 L531.5,250.5 L531.5,246.5 L549.5,246.5 L549.5,242.5 L551.5,242.5 L551.5,246.5 L553.5,246.5 L553.5,242.5 L598.5,242.5 L598.5,246.5 L602.5,246.5 L602.5,242.5 L605.5,242.5 L605.5,238.5 L609.5,238.5 L609.5,242.5 L612.5,242.5 L612.5,238.5 L619.5,238.5 L619.5,234.5 L629.5,234.5 L629.5,230.5 L641.5,230.5 L641.5,226.5 L662.5,226.5 L662.5,230.5 L681.5,230.5 L681.5,234.5 L727.5,234.5 L727.5,238.5 L733.5,238.5 L733.5,234.5 L739.5,234.5 L739.5,238.5 L741.5,238.5 L741.5,234.5 L805.5,234.5 L805.5,238.5 L807.5,238.5 L807.5,234.5 L810.5,234.5 L810.5,238.5 L846.5,238.5 L846.5,234.5 L871.5,234.5 L871.5,234.5" fill="none" stroke="#0000ff" stroke-width="1" stroke-linejoin="miter" shape-rendering="crispEdges" />
<path d="M151.5,348.9 L160.5,349.9 L165.5,350.4 L190.5,350.5 L210.5,349.5 L226.5,349.1 L240.5,348.7 L254.5,350.1 L264.5,351.5 L271.5,352.5 L285.5,353.3 L298.5,353.8 L307.5,354.5 L319.5,356.5 L327.5,358.0 L335.5,360.5 L346.5,363.0 L348.5,365.5 L360.5,370.5 L367.5,372.5 L372.5,376.5 L375.5,379.0 L380.5,380.5 L386.5,382.0 L388.5,383.0 L396.5,384.5 L398.5,384.0 L415.5,384.0 L422.5,382.5 L424.5,380.5 L432.5,379.0 L437.5,377.5 L443.5,372.5 L448.4,361.9 L453.3,353.3 L458.2,348.5 L464.4,345.1 L471.8,342.5 L476.7,340.5 L484.1,342.5 L493.9,341.9 L503.8,341.9 L511.2,338.5 L521.0,337.0 L530.9,335.3 L535.5,336.0 L545.5,336.5 L556.5,337.5 L572.5,338.5 L590.5,337.5 L601.5,336.0 L603.5,337.5 L618.5,339.5 L628.5,342.5 L637.5,346.5 L646.5,350.0 L654.5,360.5 L660.5,366.5 L664.5,368.5 L672.5,373.5 L681.5,378.0 L684.5,378.9 L688.5,370.5 L692.5,361.9 L697.5,353.5 L703.5,349.5 L709.5,347.9 L720.5,349.0 L735.5,349.5 L750.5,349.9 L765.5,351.1 L780.5,352.0 L800.5,353.2 L820.5,355.3 L845.5,356.5 L860.5,358.5 L871.5,359.0" fill="none" stroke="#408080" stroke-width="1" stroke-linejoin="miter" shape-rendering="crispEdges" />
<path d="M151.5,337.8 L155.9,339.5 L165.5,340.8 L190.5,340.7 L210.1,339.8 L227.3,338.5 L233.5,337.8 L242.1,337.8 L244.5,339.0 L254.5,340.0 L264.3,341.5 L271.5,342.7 L284.0,343.5 L298.5,344.0 L307.5,344.5 L319.5,345.5 L327.5,347.1 L335.5,350.0 L346.5,353.0 L350.5,356.0 L360.5,360.0 L367.5,362.5 L374.5,367.0 L380.5,369.5 L386.5,371.5 L388.5,372.5 L396.5,374.0 L415.5,374.0 L422.5,372.5 L424.5,370.5 L432.5,368.5 L437.5,367.0 L442.2,364.1 L447.2,356.5 L452.1,348.1 L457.0,342.5 L464.4,337.0 L471.8,332.5 L479.2,328.4 L489.0,323.5 L498.9,319.3 L508.7,316.5 L513.5,312.5 L521.0,308.5 L528.5,306.0 L538.3,305.3 L544.5,305.0 L555.1,306.5 L565.5,308.5 L576.3,310.0 L592.1,309.8 L602.5,310.0 L613.3,312.1 L623.9,315.5 L634.5,320.1 L645.0,326.1 L650.5,330.5 L655.5,337.9 L664.5,343.5 L672.5,350.2 L681.5,356.1 L685.0,356.5 L688.5,353.5 L693.5,343.5 L698.5,337.9 L703.5,335.5 L709.5,334.5 L717.5,334.7 L728.5,335.5 L743.5,336.2 L757.5,336.5 L772.5,337.5 L787.5,338.5 L791.5,339.7 L820.5,341.5 L845.5,342.5 L860.5,344.2 L871.5,344.9" fill="none" stroke="#ff0000" stroke-width="1.2" stroke-linejoin="miter"  />
<rect x="148" y="361" width="10" height="2" fill="#808080" shape-rendering="crispEdges"/>
<rect x="162" y="361" width="2" height="2" fill="#808080" shape-rendering="crispEdges"/>
<rect x="167" y="361" width="2" height="2" fill="#808080" shape-rendering="crispEdges"/>
<rect x="176" y="361" width="2" height="2" fill="#808080" shape-rendering="crispEdges"/>
<rect x="183" y="361" width="3" height="2" fill="#808080" shape-rendering="crispEdges"/>
<rect x="195" y="361" width="20" height="2" fill="#808080" shape-rendering="crispEdges"/>
<rect x="220" y="361" width="12" height="2" fill="#808080" shape-rendering="crispEdges"/>
<rect x="237" y="361" width="19" height="2" fill="#808080" shape-rendering="crispEdges"/>
<rect x="262" y="361" width="13" height="2" fill="#808080" shape-rendering="crispEdges"/>
<rect x="151" y="387" width="10" height="2" fill="#808080" shape-rendering="crispEdges"/>
<rect x="168" y="387" width="28" height="2" fill="#808080" shape-rendering="crispEdges"/>
<rect x="201" y="387" width="12" height="2" fill="#808080" shape-rendering="crispEdges"/>
<rect x="232" y="387" width="21" height="2" fill="#808080" shape-rendering="crispEdges"/>
<rect x="257" y="387" width="18" height="2" fill="#808080" shape-rendering="crispEdges"/>
<rect x="553" y="355" width="2" height="2" fill="#808080" shape-rendering="crispEdges"/>
<rect x="551" y="349" width="2" height="2" fill="#808080" shape-rendering="crispEdges"/>
<rect x="493" y="358" width="2" height="2" fill="#808080" shape-rendering="crispEdges"/>
<rect x="524" y="357" width="2" height="2" fill="#808080" shape-rendering="crispEdges"/>
<rect x="487" y="361" width="2" height="2" fill="#808080" shape-rendering="crispEdges"/>
<rect x="523" y="353" width="2" height="2" fill="#808080" shape-rendering="crispEdges"/>
<rect x="532" y="361" width="2" height="2" fill="#808080" shape-rendering="crispEdges"/>
<rect x="555" y="378" width="2" height="2" fill="#808080" shape-rendering="crispEdges"/>
<rect x="489" y="363" width="2" height="2" fill="#808080" shape-rendering="crispEdges"/>
<rect x="474" y="355" width="2" height="2" fill="#808080" shape-rendering="crispEdges"/>
<rect x="532" y="352" width="2" height="2" fill="#808080" shape-rendering="crispEdges"/>
<rect x="463" y="369" width="2" height="2" fill="#808080" shape-rendering="crispEdges"/>
<rect x="594" y="349" width="2" height="2" fill="#808080" shape-rendering="crispEdges"/>
<rect x="567" y="361" width="2" height="2" fill="#808080" shape-rendering="crispEdges"/>
<rect x="521" y="358" width="2" height="2" fill="#808080" shape-rendering="crispEdges"/>
<rect x="540" y="365" width="2" height="2" fill="#808080" shape-rendering="crispEdges"/>
<rect x="588" y="362" width="2" height="2" fill="#808080" shape-rendering="crispEdges"/>
<rect x="572" y="355" width="2" height="2" fill="#808080" shape-rendering="crispEdges"/>
<rect x="563" y="355" width="2" height="2" fill="#808080" shape-rendering="crispEdges"/>
<rect x="514" y="349" width="2" height="2" fill="#808080" shape-rendering="crispEdges"/>
<rect x="582" y="375" width="2" height="2" fill="#808080" shape-rendering="crispEdges"/>
<rect x="528" y="363" width="2" height="2" fill="#808080" shape-rendering="crispEdges"/>
<rect x="542" y="363" width="2" height="2" fill="#808080" shape-rendering="crispEdges"/>
<rect x="475" y="353" width="2" height="2" fill="#808080" shape-rendering="crispEdges"/>
<rect x="535" y="371" width="2" height="2" fill="#808080" shape-rendering="crispEdges"/>
<rect x="557" y="355" width="2" height="2" fill="#808080" shape-rendering="crispEdges"/>
<rect x="497" y="372" width="2" height="2" fill="#808080" shape-rendering="crispEdges"/>
<rect x="532" y="370" width="2" height="2" fill="#808080" shape-rendering="crispEdges"/>
<rect x="555" y="381" width="2" height="2" fill="#808080" shape-rendering="crispEdges"/>
<rect x="464" y="364" width="2" height="2" fill="#808080" shape-rendering="crispEdges"/>
<rect x="532" y="363" width="2" height="2" fill="#808080" shape-rendering="crispEdges"/>
<rect x="533" y="352" width="2" height="2" fill="#808080" shape-rendering="crispEdges"/>
<rect x="535" y="362" width="2" height="2" fill="#808080" shape-rendering="crispEdges"/>
<rect x="500" y="362" width="2" height="2" fill="#808080" shape-rendering="crispEdges"/>
<rect x="501" y="355" width="2" height="2" fill="#808080" shape-rendering="crispEdges"/>
<rect x="474" y="357" width="2" height="2" fill="#808080" shape-rendering="crispEdges"/>
<rect x="465" y="376" width="2" height="2" fill="#808080" shape-rendering="crispEdges"/>
<rect x="516" y="366" width="2" height="2" fill="#808080" shape-rendering="crispEdges"/>
<rect x="529" y="375" width="2" height="2" fill="#808080" shape-rendering="crispEdges"/>
<rect x="555" y="378" width="2" height="2" fill="#808080" shape-rendering="crispEdges"/>
<rect x="491" y="350" width="2" height="2" fill="#808080" shape-rendering="crispEdges"/>
<rect x="468" y="353" width="2" height="2" fill="#808080" shape-rendering="crispEdges"/>
<rect x="537" y="367" width="2" height="2" fill="#808080" shape-rendering="crispEdges"/>
<rect x="466" y="374" width="2" height="2" fill="#808080" shape-rendering="crispEdges"/>
<rect x="507" y="361" width="2" height="2" fill="#808080" shape-rendering="crispEdges"/>
<rect x="533" y="367" width="2" height="2" fill="#808080" shape-rendering="crispEdges"/>
<rect x="563" y="362" width="2" height="2" fill="#808080" shape-rendering="crispEdges"/>
<rect x="585" y="378" width="2" height="2" fill="#808080" shape-rendering="crispEdges"/>
<rect x="485" y="360" width="2" height="2" fill="#808080" shape-rendering="crispEdges"/>
<rect x="603" y="363" width="2" height="2" fill="#808080" shape-rendering="crispEdges"/>
<rect x="558" y="365" width="2" height="2" fill="#808080" shape-rendering="crispEdges"/>
<rect x="545" y="369" width="2" height="2" fill="#808080" shape-rendering="crispEdges"/>
<rect x="480" y="368" width="2" height="2" fill="#808080" shape-rendering="crispEdges"/>
<rect x="497" y="360" width="2" height="2" fill="#808080" shape-rendering="crispEdges"/>
<rect x="479" y="390" width="2" height="2" fill="#808080" shape-rendering="crispEdges"/>
<rect x="470" y="350" width="2" height="2" fill="#808080" shape-rendering="crispEdges"/>
<rect x="473" y="366" width="2" height="2" fill="#808080" shape-rendering="crispEdges"/>
<rect x="519" y="378" width="2" height="2" fill="#808080" shape-rendering="crispEdges"/>
<rect x="529" y="363" width="2" height="2" fill="#808080" shape-rendering="crispEdges"/>
<rect x="506" y="357" width="2" height="2" fill="#808080" shape-rendering="crispEdges"/>
<rect x="530" y="366" width="2" height="2" fill="#808080" shape-rendering="crispEdges"/>
<rect x="582" y="353" width="2" height="2" fill="#808080" shape-rendering="crispEdges"/>
<rect x="494" y="363" width="2" height="2" fill="#808080" shape-rendering="crispEdges"/>
<rect x="488" y="351" width="2" height="2" fill="#808080" shape-rendering="crispEdges"/>
<rect x="493" y="384" width="2" height="2" fill="#808080" shape-rendering="crispEdges"/>
<rect x="511" y="366" width="2" height="2" fill="#808080" shape-rendering="crispEdges"/>
<rect x="452" y="377" width="2" height="2" fill="#808080" shape-rendering="crispEdges"/>
<rect x="553" y="354" width="2" height="2" fill="#808080" shape-rendering="crispEdges"/>
<rect x="541" y="351" width="2" height="2" fill="#808080" shape-rendering="crispEdges"/>
<rect x="477" y="359" width="2" height="2" fill="#808080" shape-rendering="crispEdges"/>
<rect x="472" y="351" width="2" height="2" fill="#808080" shape-rendering="crispEdges"/>
<rect x="585" y="371" width="2" height="2" fill="#808080" shape-rendering="crispEdges"/>
<rect x="581" y="354" width="2" height="2" fill="#808080" shape-rendering="crispEdges"/>
<rect x="453" y="372" width="2" height="2" fill="#808080" shape-rendering="crispEdges"/>
<rect x="559" y="367" width="2" height="2" fill="#808080" shape-rendering="crispEdges"/>
<rect x="576" y="351" width="2" height="2" fill="#808080" shape-rendering="crispEdges"/>
<rect x="555" y="360" width="2" height="2" fill="#808080" shape-rendering="crispEdges"/>
<rect x="519" y="372" width="2" height="2" fill="#808080" shape-rendering="crispEdges"/>
<rect x="547" y="354" width="2" height="2" fill="#808080" shape-rendering="crispEdges"/>
<rect x="589" y="368" width="2" height="2" fill="#808080" shape-rendering="crispEdges"/>
<rect x="486" y="367" width="2" height="2" fill="#808080" shape-rendering="crispEdges"/>
<rect x="487" y="350" width="2" height="2" fill="#808080" shape-rendering="crispEdges"/>
<rect x="473" y="354" width="2" height="2" fill="#808080" shape-rendering="crispEdges"/>
<rect x="595" y="367" width="2" height="2" fill="#808080" shape-rendering="crispEdges"/>
<rect x="488" y="354" width="2" height="2" fill="#808080" shape-rendering="crispEdges"/>
<rect x="496" y="364" width="2" height="2" fill="#808080" shape-rendering="crispEdges"/>
<rect x="571" y="354" width="2" height="2" fill="#808080" shape-rendering="crispEdges"/>
<rect x="563" y="361" width="2" height="2" fill="#808080" shape-rendering="crispEdges"/>
<rect x="468" y="354" width="2" height="2" fill="#808080" shape-rendering="crispEdges"/>
<rect x="532" y="363" width="2" height="2" fill="#808080" shape-rendering="crispEdges"/>
<rect x="549" y="367" width="2" height="2" fill="#808080" shape-rendering="crispEdges"/>
<rect x="476" y="382" width="2" height="2" fill="#808080" shape-rendering="crispEdges"/>
<rect x="468" y="361" width="2" height="2" fill="#808080" shape-rendering="crispEdges"/>
<rect x="481" y="350" width="2" height="2" fill="#808080" shape-rendering="crispEdges"/>
<rect x="457" y="363" width="2" height="2" fill="#808080" shape-rendering="crispEdges"/>
<rect x="493" y="388" width="2" height="2" fill="#808080" shape-rendering="crispEdges"/>
<rect x="551" y="380" width="2" height="2" fill="#808080" shape-rendering="crispEdges"/>
<rect x="603" y="351" width="2" height="2" fill="#808080" shape-rendering="crispEdges"/>
<rect x="534" y="356" width="2" height="2" fill="#808080" shape-rendering="crispEdges"/>
<rect x="502" y="369" width="2" height="2" fill="#808080" shape-rendering="crispEdges"/>
<rect x="532" y="373" width="2" height="2" fill="#808080" shape-rendering="crispEdges"/>
<rect x="452" y="394" width="2" height="2" fill="#808080" shape-rendering="crispEdges"/>
<rect x="454" y="382" width="2" height="2" fill="#808080" shape-rendering="crispEdges"/>
<rect x="490" y="362" width="2" height="2" fill="#808080" shape-rendering="crispEdges"/>
<rect x="505" y="359" width="2" height="2" fill="#808080" shape-rendering="crispEdges"/>
<rect x="473" y="366" width="2" height="2" fill="#808080" shape-rendering="crispEdges"/>
<rect x="598" y="371" width="2" height="2" fill="#808080" shape-rendering="crispEdges"/>
<rect x="591" y="351" width="2" height="2" fill="#808080" shape-rendering="crispEdges"/>
<rect x="490" y="349" width="2" height="2" fill="#808080" shape-rendering="crispEdges"/>
<rect x="452" y="382" width="2" height="2" fill="#808080" shape-rendering="crispEdges"/>
<rect x="485" y="349" width="2" height="2" fill="#808080" shape-rendering="crispEdges"/>
<rect x="495" y="364" width="2" height="2" fill="#808080" shape-rendering="crispEdges"/>
<rect x="538" y="350" width="2" height="2" fill="#808080" shape-rendering="crispEdges"/>
<rect x="508" y="366" width="2" height="2" fill="#808080" shape-rendering="crispEdges"/>
<rect x="571" y="359" width="2" height="2" fill="#808080" shape-rendering="crispEdges"/>
<rect x="459" y="368" width="2" height="2" fill="#808080" shape-rendering="crispEdges"/>
<rect x="476" y="366" width="2" height="2" fill="#808080" shape-rendering="crispEdges"/>
<rect x="472" y="375" width="2" height="2" fill="#808080" shape-rendering="crispEdges"/>
<rect x="517" y="356" width="2" height="2" fill="#808080" shape-rendering="crispEdges"/>
<rect x="595" y="349" width="2" height="2" fill="#808080" shape-rendering="crispEdges"/>
<rect x="569" y="362" width="2" height="2" fill="#808080" shape-rendering="crispEdges"/>
<rect x="535" y="361" width="2" height="2" fill="#808080" shape-rendering="crispEdges"/>
<rect x="501" y="364" width="2" height="2" fill="#808080" shape-rendering="crispEdges"/>
<rect x="569" y="359" width="2" height="2" fill="#808080" shape-rendering="crispEdges"/>
<rect x="465" y="358" width="2" height="2" fill="#808080" shape-rendering="crispEdges"/>
<rect x="522" y="368" width="2" height="2" fill="#808080" shape-rendering="crispEdges"/>
<rect x="513" y="357" width="2" height="2" fill="#808080" shape-rendering="crispEdges"/>
<rect x="472" y="350" width="2" height="2" fill="#808080" shape-rendering="crispEdges"/>
<rect x="485" y="364" width="2" height="2" fill="#808080" shape-rendering="crispEdges"/>
<rect x="502" y="384" width="2" height="2" fill="#808080" shape-rendering="crispEdges"/>
<rect x="539" y="374" width="2" height="2" fill="#808080" shape-rendering="crispEdges"/>
<rect x="518" y="363" width="2" height="2" fill="#808080" shape-rendering="crispEdges"/>
<rect x="502" y="364" width="2" height="2" fill="#808080" shape-rendering="crispEdges"/>
<rect x="570" y="363" width="2" height="2" fill="#808080" shape-rendering="crispEdges"/>
<rect x="519" y="375" width="2" height="2" fill="#808080" shape-rendering="crispEdges"/>
<rect x="486" y="372" width="2" height="2" fill="#808080" shape-rendering="crispEdges"/>
<rect x="488" y="354" width="2" height="2" fill="#808080" shape-rendering="crispEdges"/>
<rect x="526" y="363" width="2" height="2" fill="#808080" shape-rendering="crispEdges"/>
<rect x="595" y="349" width="2" height="2" fill="#808080" shape-rendering="crispEdges"/>
<rect x="543" y="349" width="2" height="2" fill="#808080" shape-rendering="crispEdges"/>
<rect x="462" y="363" width="2" height="2" fill="#808080" shape-rendering="crispEdges"/>
<rect x="459" y="375" width="2" height="2" fill="#808080" shape-rendering="crispEdges"/>
<rect x="552" y="363" width="2" height="2" fill="#808080" shape-rendering="crispEdges"/>
<rect x="562" y="356" width="2" height="2" fill="#808080" shape-rendering="crispEdges"/>
<rect x="578" y="379" width="2" height="2" fill="#808080" shape-rendering="crispEdges"/>
<rect x="514" y="377" width="2" height="2" fill="#808080" shape-rendering="crispEdges"/>
<rect x="472" y="366" width="2" height="2" fill="#808080" shape-rendering="crispEdges"/>
<rect x="471" y="373" width="2" height="2" fill="#808080" shape-rendering="crispEdges"/>
<rect x="576" y="356" width="2" height="2" fill="#808080" shape-rendering="crispEdges"/>
<rect x="483" y="371" width="2" height="2" fill="#808080" shape-rendering="crispEdges"/>
<rect x="506" y="361" width="2" height="2" fill="#808080" shape-rendering="crispEdges"/>
<rect x="526" y="362" width="2" height="2" fill="#808080" shape-rendering="crispEdges"/>
<rect x="462" y="387" width="2" height="2" fill="#808080" shape-rendering="crispEdges"/>
<rect x="557" y="354" width="2" height="2" fill="#808080" shape-rendering="crispEdges"/>
<rect x="574" y="363" width="2" height="2" fill="#808080" shape-rendering="crispEdges"/>
<rect x="560" y="357" width="2" height="2" fill="#808080" shape-rendering="crispEdges"/>
<rect x="584" y="349" width="2" height="2" fill="#808080" shape-rendering="crispEdges"/>
<rect x="475" y="369" width="2" height="2" fill="#808080" shape-rendering="crispEdges"/>
<rect x="514" y="352" width="2" height="2" fill="#808080" shape-rendering="crispEdges"/>
<rect x="522" y="360" width="2" height="2" fill="#808080" shape-rendering="crispEdges"/>
<rect x="578" y="365" width="2" height="2" fill="#808080" shape-rendering="crispEdges"/>
<rect x="456" y="379" width="2" height="2" fill="#808080" shape-rendering="crispEdges"/>
<rect x="489" y="369" width="2" height="2" fill="#808080" shape-rendering="crispEdges"/>
<rect x="591" y="354" width="2" height="2" fill="#808080" shape-rendering="crispEdges"/>
<rect x="544" y="363" width="2" height="2" fill="#808080" shape-rendering="crispEdges"/>
<rect x="466" y="368" width="2" height="2" fill="#808080" shape-rendering="crispEdges"/>
<rect x="532" y="365" width="2" height="2" fill="#808080" shape-rendering="crispEdges"/>
<rect x="486" y="359" width="2" height="2" fill="#808080" shape-rendering="crispEdges"/>
<rect x="582" y="351" width="2" height="2" fill="#808080" shape-rendering="crispEdges"/>
<rect x="472" y="357" width="2" height="2" fill="#808080" shape-rendering="crispEdges"/>
<rect x="513" y="358" width="2" height="2" fill="#808080" shape-rendering="crispEdges"/>
<rect x="534" y="371" width="2" height="2" fill="#808080" shape-rendering="crispEdges"/>
<rect x="456" y="375" width="2" height="2" fill="#808080" shape-rendering="crispEdges"/>
<rect x="572" y="351" width="2" height="2" fill="#808080" shape-rendering="crispEdges"/>
<rect x="529" y="354" width="2" height="2" fill="#808080" shape-rendering="crispEdges"/>
<rect x="519" y="358" width="2" height="2" fill="#808080" shape-rendering="crispEdges"/>
<rect x="493" y="359" width="2" height="2" fill="#808080" shape-rendering="crispEdges"/>
<rect x="568" y="362" width="2" height="2" fill="#808080" shape-rendering="crispEdges"/>
<rect x="472" y="349" width="2" height="2" fill="#808080" shape-rendering="crispEdges"/>
<rect x="507" y="372" width="2" height="2" fill="#808080" shape-rendering="crispEdges"/>
<rect x="501" y="368" width="2" height="2" fill="#808080" shape-rendering="crispEdges"/>
<rect x="524" y="366" width="2" height="2" fill="#808080" shape-rendering="crispEdges"/>
<rect x="476" y="360" width="2" height="2" fill="#808080" shape-rendering="crispEdges"/>
<rect x="485" y="358" width="2" height="2" fill="#808080" shape-rendering="crispEdges"/>
<rect x="486" y="389" width="2" height="2" fill="#808080" shape-rendering="crispEdges"/>
<rect x="536" y="380" width="2" height="2" fill="#808080" shape-rendering="crispEdges"/>
<rect x="523" y="367" width="2" height="2" fill="#808080" shape-rendering="crispEdges"/>
<rect x="583" y="355" width="2" height="2" fill="#808080" shape-rendering="crispEdges"/>
<rect x="559" y="370" width="2" height="2" fill="#808080" shape-rendering="crispEdges"/>
<rect x="494" y="365" width="2" height="2" fill="#808080" shape-rendering="crispEdges"/>
<rect x="579" y="352" width="2" height="2" fill="#808080" shape-rendering="crispEdges"/>
<rect x="562" y="349" width="2" height="2" fill="#808080" shape-rendering="crispEdges"/>
<rect x="545" y="356" width="2" height="2" fill="#808080" shape-rendering="crispEdges"/>
<rect x="494" y="357" width="2" height="2" fill="#808080" shape-rendering="crispEdges"/>
<rect x="601" y="370" width="2" height="2" fill="#808080" shape-rendering="crispEdges"/>
<rect x="548" y="351" width="2" height="2" fill="#808080" shape-rendering="crispEdges"/>
<rect x="545" y="359" width="2" height="2" fill="#808080" shape-rendering="crispEdges"/>
<rect x="511" y="351" width="2" height="2" fill="#808080" shape-rendering="crispEdges"/>
<rect x="484" y="361" width="2" height="2" fill="#808080" shape-rendering="crispEdges"/>
<rect x="490" y="356" width="2" height="2" fill="#808080" shape-rendering="crispEdges"/>
<rect x="528" y="368" width="2" height="2" fill="#808080" shape-rendering="crispEdges"/>
<rect x="496" y="362" width="2" height="2" fill="#808080" shape-rendering="crispEdges"/>
<rect x="539" y="352" width="2" height="2" fill="#808080" shape-rendering="crispEdges"/>
<rect x="575" y="362" width="2" height="2" fill="#808080" shape-rendering="crispEdges"/>
<rect x="452" y="372" width="2" height="2" fill="#808080" shape-rendering="crispEdges"/>
<rect x="541" y="375" width="2" height="2" fill="#808080" shape-rendering="crispEdges"/>
<rect x="528" y="377" width="2" height="2" fill="#808080" shape-rendering="crispEdges"/>
<rect x="472" y="383" width="2" height="2" fill="#808080" shape-rendering="crispEdges"/>
<rect x="464" y="358" width="2" height="2" fill="#808080" shape-rendering="crispEdges"/>
<rect x="576" y="378" width="2" height="2" fill="#808080" shape-rendering="crispEdges"/>
<rect x="546" y="373" width="2" height="2" fill="#808080" shape-rendering="crispEdges"/>
<rect x="540" y="355" width="2" height="2" fill="#808080" shape-rendering="crispEdges"/>
<rect x="538" y="355" width="2" height="2" fill="#808080" shape-rendering="crispEdges"/>
<rect x="528" y="356" width="2" height="2" fill="#808080" shape-rendering="crispEdges"/>
<rect x="541" y="371" width="2" height="2" fill="#808080" shape-rendering="crispEdges"/>
<rect x="460" y="362" width="2" height="2" fill="#808080" shape-rendering="crispEdges"/>
<rect x="509" y="357" width="2" height="2" fill="#808080" shape-rendering="crispEdges"/>
<rect x="465" y="387" width="2" height="2" fill="#808080" shape-rendering="crispEdges"/>
<rect x="511" y="357" width="2" height="2" fill="#808080" shape-rendering="crispEdges"/>
<rect x="549" y="353" width="2" height="2" fill="#808080" shape-rendering="crispEdges"/>
<rect x="556" y="357" width="2" height="2" fill="#808080" shape-rendering="crispEdges"/>
<rect x="506" y="361" width="2" height="2" fill="#808080" shape-rendering="crispEdges"/>
<rect x="532" y="370" width="2" height="2" fill="#808080" shape-rendering="crispEdges"/>
<rect x="450" y="397" width="2" height="2" fill="#808080" shape-rendering="crispEdges"/>
<rect x="582" y="355" width="2" height="2" fill="#808080" shape-rendering="crispEdges"/>
<rect x="586" y="359" width="2" height="2" fill="#808080" shape-rendering="crispEdges"/>
<rect x="518" y="351" width="2" height="2" fill="#808080" shape-rendering="crispEdges"/>
<rect x="812" y="373" width="2" height="2" fill="#808080" shape-rendering="crispEdges"/>
<rect x="703" y="374" width="2" height="2" fill="#808080" shape-rendering="crispEdges"/>
<rect x="761" y="390" width="2" height="2" fill="#808080" shape-rendering="crispEdges"/>
<rect x="688" y="383" width="2" height="2" fill="#808080" shape-rendering="crispEdges"/>
<rect x="812" y="385" width="2" height="2" fill="#808080" shape-rendering="crispEdges"/>
<rect x="696" y="405" width="2" height="2" fill="#808080" shape-rendering="crispEdges"/>
<rect x="828" y="383" width="2" height="2" fill="#808080" shape-rendering="crispEdges"/>
<rect x="701" y="402" width="2" height="2" fill="#808080" shape-rendering="crispEdges"/>
<rect x="797" y="372" width="2" height="2" fill="#808080" shape-rendering="crispEdges"/>
<rect x="830" y="394" width="2" height="2" fill="#808080" shape-rendering="crispEdges"/>
<rect x="704" y="378" width="2" height="2" fill="#808080" shape-rendering="crispEdges"/>
<rect x="736" y="367" width="2" height="2" fill="#808080" shape-rendering="crispEdges"/>
<rect x="688" y="377" width="2" height="2" fill="#808080" shape-rendering="crispEdges"/>
<rect x="763" y="365" width="2" height="2" fill="#808080" shape-rendering="crispEdges"/>
<rect x="687" y="379" width="2" height="2" fill="#808080" shape-rendering="crispEdges"/>
<rect x="814" y="386" width="2" height="2" fill="#808080" shape-rendering="crispEdges"/>
<rect x="706" y="383" width="2" height="2" fill="#808080" shape-rendering="crispEdges"/>
<rect x="787" y="383" width="2" height="2" fill="#808080" shape-rendering="crispEdges"/>
<rect x="717" y="368" width="2" height="2" fill="#808080" shape-rendering="crispEdges"/>
<rect x="845" y="388" width="2" height="2" fill="#808080" shape-rendering="crispEdges"/>
<rect x="806" y="368" width="2" height="2" fill="#808080" shape-rendering="crispEdges"/>
<rect x="696" y="383" width="2" height="2" fill="#808080" shape-rendering="crispEdges"/>
<rect x="785" y="397" width="2" height="2" fill="#808080" shape-rendering="crispEdges"/>
<rect x="832" y="388" width="2" height="2" fill="#808080" shape-rendering="crispEdges"/>
<rect x="704" y="367" width="2" height="2" fill="#808080" shape-rendering="crispEdges"/>
<rect x="734" y="370" width="2" height="2" fill="#808080" shape-rendering="crispEdges"/>
<rect x="783" y="372" width="2" height="2" fill="#808080" shape-rendering="crispEdges"/>
<rect x="767" y="395" width="2" height="2" fill="#808080" shape-rendering="crispEdges"/>
<rect x="740" y="367" width="2" height="2" fill="#808080" shape-rendering="crispEdges"/>
<rect x="838" y="374" width="2" height="2" fill="#808080" shape-rendering="crispEdges"/>
<rect x="725" y="377" width="2" height="2" fill="#808080" shape-rendering="crispEdges"/>
<rect x="758" y="354" width="2" height="2" fill="#808080" shape-rendering="crispEdges"/>
<rect x="823" y="390" width="2" height="2" fill="#808080" shape-rendering="crispEdges"/>
<rect x="740" y="359" width="2" height="2" fill="#808080" shape-rendering="crispEdges"/>
<rect x="796" y="370" width="2" height="2" fill="#808080" shape-rendering="crispEdges"/>
<rect x="752" y="398" width="2" height="2" fill="#808080" shape-rendering="crispEdges"/>
<rect x="817" y="362" width="2" height="2" fill="#808080" shape-rendering="crispEdges"/>
<rect x="779" y="374" width="2" height="2" fill="#808080" shape-rendering="crispEdges"/>
<rect x="746" y="374" width="2" height="2" fill="#808080" shape-rendering="crispEdges"/>
<rect x="817" y="408" width="2" height="2" fill="#808080" shape-rendering="crispEdges"/>
<rect x="724" y="382" width="2" height="2" fill="#808080" shape-rendering="crispEdges"/>
<rect x="838" y="360" width="2" height="2" fill="#808080" shape-rendering="crispEdges"/>
<rect x="774" y="380" width="2" height="2" fill="#808080" shape-rendering="crispEdges"/>
<rect x="703" y="398" width="2" height="2" fill="#808080" shape-rendering="crispEdges"/>
<rect x="691" y="381" width="2" height="2" fill="#808080" shape-rendering="crispEdges"/>
<rect x="817" y="396" width="2" height="2" fill="#808080" shape-rendering="crispEdges"/>
<rect x="811" y="373" width="2" height="2" fill="#808080" shape-rendering="crispEdges"/>
<rect x="793" y="369" width="2" height="2" fill="#808080" shape-rendering="crispEdges"/>
<rect x="803" y="378" width="2" height="2" fill="#808080" shape-rendering="crispEdges"/>
<rect x="768" y="398" width="2" height="2" fill="#808080" shape-rendering="crispEdges"/>
<rect x="693" y="369" width="2" height="2" fill="#808080" shape-rendering="crispEdges"/>
<rect x="761" y="389" width="2" height="2" fill="#808080" shape-rendering="crispEdges"/>
<rect x="805" y="375" width="2" height="2" fill="#808080" shape-rendering="crispEdges"/>
<rect x="747" y="378" width="2" height="2" fill="#808080" shape-rendering="crispEdges"/>
<rect x="798" y="371" width="2" height="2" fill="#808080" shape-rendering="crispEdges"/>
<rect x="724" y="367" width="2" height="2" fill="#808080" shape-rendering="crispEdges"/>
<rect x="736" y="354" width="2" height="2" fill="#808080" shape-rendering="crispEdges"/>
<rect x="802" y="375" width="2" height="2" fill="#808080" shape-rendering="crispEdges"/>
<rect x="731" y="393" width="2" height="2" fill="#808080" shape-rendering="crispEdges"/>
<rect x="809" y="383" width="2" height="2" fill="#808080" shape-rendering="crispEdges"/>
<rect x="833" y="374" width="2" height="2" fill="#808080" shape-rendering="crispEdges"/>
<rect x="756" y="370" width="2" height="2" fill="#808080" shape-rendering="crispEdges"/>
<rect x="795" y="393" width="2" height="2" fill="#808080" shape-rendering="crispEdges"/>
<rect x="736" y="400" width="2" height="2" fill="#808080" shape-rendering="crispEdges"/>
<rect x="764" y="385" width="2" height="2" fill="#808080" shape-rendering="crispEdges"/>
<rect x="744" y="391" width="2" height="2" fill="#808080" shape-rendering="crispEdges"/>
<rect x="771" y="362" width="2" height="2" fill="#808080" shape-rendering="crispEdges"/>
<rect x="846" y="382" width="2" height="2" fill="#808080" shape-rendering="crispEdges"/>
<rect x="845" y="370" width="2" height="2" fill="#808080" shape-rendering="crispEdges"/>
<rect x="753" y="370" width="2" height="2" fill="#808080" shape-rendering="crispEdges"/>
<rect x="798" y="396" width="2" height="2" fill="#808080" shape-rendering="crispEdges"/>
<rect x="819" y="396" width="2" height="2" fill="#808080" shape-rendering="crispEdges"/>
<rect x="760" y="389" width="2" height="2" fill="#808080" shape-rendering="crispEdges"/>
<rect x="835" y="378" width="2" height="2" fill="#808080" shape-rendering="crispEdges"/>
<rect x="738" y="389" width="2" height="2" fill="#808080" shape-rendering="crispEdges"/>
<rect x="726" y="386" width="2" height="2" fill="#808080" shape-rendering="crispEdges"/>
<rect x="757" y="376" width="2" height="2" fill="#808080" shape-rendering="crispEdges"/>
<rect x="803" y="375" width="2" height="2" fill="#808080" shape-rendering="crispEdges"/>
<rect x="834" y="384" width="2" height="2" fill="#808080" shape-rendering="crispEdges"/>
<rect x="762" y="359" width="2" height="2" fill="#808080" shape-rendering="crispEdges"/>
<rect x="778" y="365" width="2" height="2" fill="#808080" shape-rendering="crispEdges"/>
<rect x="745" y="369" width="2" height="2" fill="#808080" shape-rendering="crispEdges"/>
<rect x="713" y="377" width="2" height="2" fill="#808080" shape-rendering="crispEdges"/>
<rect x="698" y="387" width="2" height="2" fill="#808080" shape-rendering="crispEdges"/>
<rect x="807" y="384" width="2" height="2" fill="#808080" shape-rendering="crispEdges"/>
<rect x="707" y="409" width="2" height="2" fill="#808080" shape-rendering="crispEdges"/>
<rect x="814" y="354" width="2" height="2" fill="#808080" shape-rendering="crispEdges"/>
<rect x="842" y="374" width="2" height="2" fill="#808080" shape-rendering="crispEdges"/>
<rect x="776" y="389" width="2" height="2" fill="#808080" shape-rendering="crispEdges"/>
<rect x="776" y="372" width="2" height="2" fill="#808080" shape-rendering="crispEdges"/>
<rect x="796" y="376" width="2" height="2" fill="#808080" shape-rendering="crispEdges"/>
<rect x="791" y="381" width="2" height="2" fill="#808080" shape-rendering="crispEdges"/>
<rect x="756" y="359" width="2" height="2" fill="#808080" shape-rendering="crispEdges"/>
<rect x="834" y="375" width="2" height="2" fill="#808080" shape-rendering="crispEdges"/>
<rect x="738" y="386" width="2" height="2" fill="#808080" shape-rendering="crispEdges"/>
<rect x="820" y="393" width="2" height="2" fill="#808080" shape-rendering="crispEdges"/>
<rect x="778" y="386" width="2" height="2" fill="#808080" shape-rendering="crispEdges"/>
<rect x="848" y="387" width="2" height="2" fill="#808080" shape-rendering="crispEdges"/>
<rect x="781" y="378" width="2" height="2" fill="#808080" shape-rendering="crispEdges"/>
<rect x="789" y="389" width="2" height="2" fill="#808080" shape-rendering="crispEdges"/>
<rect x="790" y="391" width="2" height="2" fill="#808080" shape-rendering="crispEdges"/>
<rect x="787" y="379" width="2" height="2" fill="#808080" shape-rendering="crispEdges"/>
<rect x="711" y="362" width="2" height="2" fill="#808080" shape-rendering="crispEdges"/>
<rect x="794" y="375" width="2" height="2" fill="#808080" shape-rendering="crispEdges"/>
<rect x="774" y="366" width="2" height="2" fill="#808080" shape-rendering="crispEdges"/>
<rect x="807" y="379" width="2" height="2" fill="#808080" shape-rendering="crispEdges"/>
<rect x="848" y="396" width="2" height="2" fill="#808080" shape-rendering="crispEdges"/>
<rect x="820" y="386" width="2" height="2" fill="#808080" shape-rendering="crispEdges"/>
<rect x="848" y="375" width="2" height="2" fill="#808080" shape-rendering="crispEdges"/>
<rect x="802" y="379" width="2" height="2" fill="#808080" shape-rendering="crispEdges"/>
<rect x="696" y="407" width="2" height="2" fill="#808080" shape-rendering="crispEdges"/>
<rect x="779" y="384" width="2" height="2" fill="#808080" shape-rendering="crispEdges"/>
<rect x="791" y="383" width="2" height="2" fill="#808080" shape-rendering="crispEdges"/>
<rect x="807" y="386" width="2" height="2" fill="#808080" shape-rendering="crispEdges"/>
<rect x="792" y="370" width="2" height="2" fill="#808080" shape-rendering="crispEdges"/>
<rect x="816" y="375" width="2" height="2" fill="#808080" shape-rendering="crispEdges"/>
<rect x="773" y="377" width="2" height="2" fill="#808080" shape-rendering="crispEdges"/>
<rect x="738" y="377" width="2" height="2" fill="#808080" shape-rendering="crispEdges"/>
<rect x="728" y="400" width="2" height="2" fill="#808080" shape-rendering="crispEdges"/>
<rect x="709" y="362" width="2" height="2" fill="#808080" shape-rendering="crispEdges"/>
<rect x="836" y="377" width="2" height="2" fill="#808080" shape-rendering="crispEdges"/>
<rect x="825" y="391" width="2" height="2" fill="#808080" shape-rendering="crispEdges"/>
<rect x="839" y="372" width="2" height="2" fill="#808080" shape-rendering="crispEdges"/>
<rect x="767" y="377" width="2" height="2" fill="#808080" shape-rendering="crispEdges"/>
<rect x="742" y="375" width="2" height="2" fill="#808080" shape-rendering="crispEdges"/>
<rect x="723" y="368" width="2" height="2" fill="#808080" shape-rendering="crispEdges"/>
<rect x="783" y="384" width="2" height="2" fill="#808080" shape-rendering="crispEdges"/>
<rect x="815" y="376" width="2" height="2" fill="#808080" shape-rendering="crispEdges"/>
<rect x="735" y="376" width="2" height="2" fill="#808080" shape-rendering="crispEdges"/>
<rect x="766" y="393" width="2" height="2" fill="#808080" shape-rendering="crispEdges"/>
<rect x="773" y="380" width="2" height="2" fill="#808080" shape-rendering="crispEdges"/>
<rect x="770" y="376" width="2" height="2" fill="#808080" shape-rendering="crispEdges"/>
<rect x="827" y="373" width="2" height="2" fill="#808080" shape-rendering="crispEdges"/>
<rect x="733" y="367" width="2" height="2" fill="#808080" shape-rendering="crispEdges"/>
<rect x="755" y="387" width="2" height="2" fill="#808080" shape-rendering="crispEdges"/>
<rect x="753" y="380" width="2" height="2" fill="#808080" shape-rendering="crispEdges"/>
<rect x="827" y="372" width="2" height="2" fill="#808080" shape-rendering="crispEdges"/>
<rect x="794" y="365" width="2" height="2" fill="#808080" shape-rendering="crispEdges"/>
<rect x="755" y="383" width="2" height="2" fill="#808080" shape-rendering="crispEdges"/>
<rect x="758" y="357" width="2" height="2" fill="#808080" shape-rendering="crispEdges"/>
<rect x="848" y="386" width="2" height="2" fill="#808080" shape-rendering="crispEdges"/>
<rect x="764" y="405" width="2" height="2" fill="#808080" shape-rendering="crispEdges"/>
<rect x="769" y="359" width="2" height="2" fill="#808080" shape-rendering="crispEdges"/>
<rect x="701" y="362" width="2" height="2" fill="#808080" shape-rendering="crispEdges"/>
<rect x="777" y="373" width="2" height="2" fill="#808080" shape-rendering="crispEdges"/>
<rect x="769" y="376" width="2" height="2" fill="#808080" shape-rendering="crispEdges"/>
<rect x="839" y="387" width="2" height="2" fill="#808080" shape-rendering="crispEdges"/>
<rect x="705" y="373" width="2" height="2" fill="#808080" shape-rendering="crispEdges"/>
<rect x="835" y="356" width="2" height="2" fill="#808080" shape-rendering="crispEdges"/>
<rect x="825" y="387" width="2" height="2" fill="#808080" shape-rendering="crispEdges"/>
<rect x="696" y="398" width="2" height="2" fill="#808080" shape-rendering="crispEdges"/>
<rect x="685" y="381" width="2" height="2" fill="#808080" shape-rendering="crispEdges"/>
<rect x="812" y="375" width="2" height="2" fill="#808080" shape-rendering="crispEdges"/>
<rect x="699" y="391" width="2" height="2" fill="#808080" shape-rendering="crispEdges"/>
<rect x="725" y="390" width="2" height="2" fill="#808080" shape-rendering="crispEdges"/>
<rect x="730" y="384" width="2" height="2" fill="#808080" shape-rendering="crispEdges"/>
<rect x="807" y="367" width="2" height="2" fill="#808080" shape-rendering="crispEdges"/>
<rect x="806" y="374" width="2" height="2" fill="#808080" shape-rendering="crispEdges"/>
<rect x="813" y="391" width="2" height="2" fill="#808080" shape-rendering="crispEdges"/>
<rect x="750" y="388" width="2" height="2" fill="#808080" shape-rendering="crispEdges"/>
<rect x="757" y="380" width="2" height="2" fill="#808080" shape-rendering="crispEdges"/>
<rect x="830" y="374" width="2" height="2" fill="#808080" shape-rendering="crispEdges"/>
<rect x="759" y="382" width="2" height="2" fill="#808080" shape-rendering="crispEdges"/>
<rect x="746" y="382" width="2" height="2" fill="#808080" shape-rendering="crispEdges"/>
<rect x="808" y="389" width="2" height="2" fill="#808080" shape-rendering="crispEdges"/>
<rect x="737" y="382" width="2" height="2" fill="#808080" shape-rendering="crispEdges"/>
<rect x="699" y="373" width="2" height="2" fill="#808080" shape-rendering="crispEdges"/>
<rect x="767" y="379" width="2" height="2" fill="#808080" shape-rendering="crispEdges"/>
<rect x="731" y="358" width="2" height="2" fill="#808080" shape-rendering="crispEdges"/>
<rect x="715" y="386" width="2" height="2" fill="#808080" shape-rendering="crispEdges"/>
<rect x="706" y="372" width="2" height="2" fill="#808080" shape-rendering="crispEdges"/>
<rect x="762" y="358" width="2" height="2" fill="#808080" shape-rendering="crispEdges"/>
<rect x="720" y="381" width="2" height="2" fill="#808080" shape-rendering="crispEdges"/>
<rect x="809" y="363" width="2" height="2" fill="#808080" shape-rendering="crispEdges"/>
<rect x="716" y="390" width="2" height="2" fill="#808080" shape-rendering="crispEdges"/>
<rect x="712" y="375" width="2" height="2" fill="#808080" shape-rendering="crispEdges"/>
<rect x="805" y="362" width="2" height="2" fill="#808080" shape-rendering="crispEdges"/>
<rect x="693" y="369" width="2" height="2" fill="#808080" shape-rendering="crispEdges"/>
<rect x="690" y="393" width="2" height="2" fill="#808080" shape-rendering="crispEdges"/>
<rect x="831" y="372" width="2" height="2" fill="#808080" shape-rendering="crispEdges"/>
<rect x="798" y="359" width="2" height="2" fill="#808080" shape-rendering="crispEdges"/>
<rect x="833" y="360" width="2" height="2" fill="#808080" shape-rendering="crispEdges"/>
<rect x="752" y="369" width="2" height="2" fill="#808080" shape-rendering="crispEdges"/>
<rect x="729" y="354" width="2" height="2" fill="#808080" shape-rendering="crispEdges"/>
<rect x="848" y="379" width="2" height="2" fill="#808080" shape-rendering="crispEdges"/>
<rect x="748" y="388" width="2" height="2" fill="#808080" shape-rendering="crispEdges"/>
<rect x="764" y="387" width="2" height="2" fill="#808080" shape-rendering="crispEdges"/>
<rect x="735" y="373" width="2" height="2" fill="#808080" shape-rendering="crispEdges"/>
<rect x="792" y="367" width="2" height="2" fill="#808080" shape-rendering="crispEdges"/>
<rect x="739" y="376" width="2" height="2" fill="#808080" shape-rendering="crispEdges"/>
<rect x="834" y="360" width="2" height="2" fill="#808080" shape-rendering="crispEdges"/>
<rect x="797" y="366" width="2" height="2" fill="#808080" shape-rendering="crispEdges"/>
<rect x="798" y="384" width="2" height="2" fill="#808080" shape-rendering="crispEdges"/>
<rect x="761" y="370" width="2" height="2" fill="#808080" shape-rendering="crispEdges"/>
<rect x="690" y="388" width="2" height="2" fill="#808080" shape-rendering="crispEdges"/>
<rect x="811" y="365" width="2" height="2" fill="#808080" shape-rendering="crispEdges"/>
<rect x="727" y="370" width="2" height="2" fill="#808080" shape-rendering="crispEdges"/>
<rect x="824" y="397" width="2" height="2" fill="#808080" shape-rendering="crispEdges"/>
<rect x="698" y="392" width="2" height="2" fill="#808080" shape-rendering="crispEdges"/>
<rect x="760" y="377" width="2" height="2" fill="#808080" shape-rendering="crispEdges"/>
<rect x="707" y="377" width="2" height="2" fill="#808080" shape-rendering="crispEdges"/>
<rect x="703" y="359" width="2" height="2" fill="#808080" shape-rendering="crispEdges"/>
<rect x="718" y="402" width="2" height="2" fill="#808080" shape-rendering="crispEdges"/>
<rect x="741" y="394" width="2" height="2" fill="#808080" shape-rendering="crispEdges"/>
<rect x="800" y="391" width="2" height="2" fill="#808080" shape-rendering="crispEdges"/>
<rect x="707" y="387" width="2" height="2" fill="#808080" shape-rendering="crispEdges"/>
<rect x="712" y="374" width="2" height="2" fill="#808080" shape-rendering="crispEdges"/>
<rect x="743" y="361" width="2" height="2" fill="#808080" shape-rendering="crispEdges"/>
<rect x="847" y="397" width="2" height="2" fill="#808080" shape-rendering="crispEdges"/>
<rect x="706" y="396" width="2" height="2" fill="#808080" shape-rendering="crispEdges"/>
<rect x="714" y="382" width="2" height="2" fill="#808080" shape-rendering="crispEdges"/>
<rect x="704" y="385" width="2" height="2" fill="#808080" shape-rendering="crispEdges"/>
<rect x="831" y="367" width="2" height="2" fill="#808080" shape-rendering="crispEdges"/>
<rect x="733" y="402" width="2" height="2" fill="#808080" shape-rendering="crispEdges"/>
<rect x="799" y="403" width="2" height="2" fill="#808080" shape-rendering="crispEdges"/>
<rect x="819" y="372" width="2" height="2" fill="#808080" shape-rendering="crispEdges"/>
<rect x="808" y="360" width="2" height="2" fill="#808080" shape-rendering="crispEdges"/>
<rect x="788" y="399" width="2" height="2" fill="#808080" shape-rendering="crispEdges"/>
<rect x="807" y="385" width="2" height="2" fill="#808080" shape-rendering="crispEdges"/>
<rect x="773" y="382" width="2" height="2" fill="#808080" shape-rendering="crispEdges"/>
<rect x="730" y="363" width="2" height="2" fill="#808080" shape-rendering="crispEdges"/>
<rect x="726" y="392" width="2" height="2" fill="#808080" shape-rendering="crispEdges"/>
<rect x="812" y="377" width="2" height="2" fill="#808080" shape-rendering="crispEdges"/>
<rect x="704" y="391" width="2" height="2" fill="#808080" shape-rendering="crispEdges"/>
<rect x="839" y="384" width="2" height="2" fill="#808080" shape-rendering="crispEdges"/>
<rect x="684" y="394" width="2" height="2" fill="#808080" shape-rendering="crispEdges"/>
<rect x="830" y="378" width="2" height="2" fill="#808080" shape-rendering="crispEdges"/>
<rect x="749" y="386" width="2" height="2" fill="#808080" shape-rendering="crispEdges"/>
<rect x="834" y="376" width="2" height="2" fill="#808080" shape-rendering="crispEdges"/>
<rect x="805" y="386" width="2" height="2" fill="#808080" shape-rendering="crispEdges"/>
<rect x="785" y="363" width="2" height="2" fill="#808080" shape-rendering="crispEdges"/>
<rect x="772" y="384" width="2" height="2" fill="#808080" shape-rendering="crispEdges"/>
<rect x="691" y="379" width="2" height="2" fill="#808080" shape-rendering="crispEdges"/>
<rect x="776" y="380" width="2" height="2" fill="#808080" shape-rendering="crispEdges"/>
<rect x="820" y="361" width="2" height="2" fill="#808080" shape-rendering="crispEdges"/>
<rect x="830" y="358" width="2" height="2" fill="#808080" shape-rendering="crispEdges"/>
<rect x="686" y="380" width="2" height="2" fill="#808080" shape-rendering="crispEdges"/>
<rect x="839" y="380" width="2" height="2" fill="#808080" shape-rendering="crispEdges"/>
<rect x="805" y="405" width="2" height="2" fill="#808080" shape-rendering="crispEdges"/>
<rect x="700" y="382" width="2" height="2" fill="#808080" shape-rendering="crispEdges"/>
<rect x="734" y="376" width="2" height="2" fill="#808080" shape-rendering="crispEdges"/>
<rect x="764" y="378" width="2" height="2" fill="#808080" shape-rendering="crispEdges"/>
<rect x="702" y="380" width="2" height="2" fill="#808080" shape-rendering="crispEdges"/>
<rect x="708" y="374" width="2" height="2" fill="#808080" shape-rendering="crispEdges"/>
<rect x="715" y="378" width="2" height="2" fill="#808080" shape-rendering="crispEdges"/>
<rect x="704" y="371" width="2" height="2" fill="#808080" shape-rendering="crispEdges"/>
<rect x="703" y="359" width="2" height="2" fill="#808080" shape-rendering="crispEdges"/>
<rect x="749" y="389" width="2" height="2" fill="#808080" shape-rendering="crispEdges"/>
<rect x="834" y="362" width="2" height="2" fill="#808080" shape-rendering="crispEdges"/>
<rect x="800" y="364" width="2" height="2" fill="#808080" shape-rendering="crispEdges"/>
<rect x="701" y="382" width="2" height="2" fill="#808080" shape-rendering="crispEdges"/>
<rect x="772" y="390" width="2" height="2" fill="#808080" shape-rendering="crispEdges"/>
<rect x="713" y="371" width="2" height="2" fill="#808080" shape-rendering="crispEdges"/>
<rect x="780" y="368" width="2" height="2" fill="#808080" shape-rendering="crispEdges"/>
<rect x="821" y="393" width="2" height="2" fill="#808080" shape-rendering="crispEdges"/>
<rect x="825" y="388" width="2" height="2" fill="#808080" shape-rendering="crispEdges"/>
<rect x="841" y="367" width="2" height="2" fill="#808080" shape-rendering="crispEdges"/>
<rect x="777" y="362" width="2" height="2" fill="#808080" shape-rendering="crispEdges"/>
<rect x="748" y="387" width="2" height="2" fill="#808080" shape-rendering="crispEdges"/>
<rect x="840" y="373" width="2" height="2" fill="#808080" shape-rendering="crispEdges"/>
<rect x="767" y="368" width="2" height="2" fill="#808080" shape-rendering="crispEdges"/>
<rect x="728" y="377" width="2" height="2" fill="#808080" shape-rendering="crispEdges"/>
<rect x="704" y="383" width="2" height="2" fill="#808080" shape-rendering="crispEdges"/>
<rect x="812" y="389" width="2" height="2" fill="#808080" shape-rendering="crispEdges"/>
<rect x="746" y="361" width="2" height="2" fill="#808080" shape-rendering="crispEdges"/>
<rect x="807" y="378" width="2" height="2" fill="#808080" shape-rendering="crispEdges"/>
<rect x="826" y="383" width="2" height="2" fill="#808080" shape-rendering="crispEdges"/>
<rect x="782" y="368" width="2" height="2" fill="#808080" shape-rendering="crispEdges"/>
<rect x="752" y="371" width="2" height="2" fill="#808080" shape-rendering="crispEdges"/>
<rect x="754" y="370" width="2" height="2" fill="#808080" shape-rendering="crispEdges"/>
<rect x="699" y="374" width="2" height="2" fill="#808080" shape-rendering="crispEdges"/>
<rect x="817" y="368" width="2" height="2" fill="#808080" shape-rendering="crispEdges"/>
<rect x="769" y="379" width="2" height="2" fill="#808080" shape-rendering="crispEdges"/>
<rect x="764" y="390" width="2" height="2" fill="#808080" shape-rendering="crispEdges"/>
<rect x="734" y="360" width="2" height="2" fill="#808080" shape-rendering="crispEdges"/>
<rect x="704" y="365" width="2" height="2" fill="#808080" shape-rendering="crispEdges"/>
<rect x="800" y="371" width="2" height="2" fill="#808080" shape-rendering="crispEdges"/>
<rect x="699" y="374" width="2" height="2" fill="#808080" shape-rendering="crispEdges"/>
<rect x="697" y="372" width="2" height="2" fill="#808080" shape-rendering="crispEdges"/>
<rect x="809" y="369" width="2" height="2" fill="#808080" shape-rendering="crispEdges"/>
<rect x="747" y="428" width="2" height="2" fill="#808080" shape-rendering="crispEdges"/>
<rect x="737" y="456" width="2" height="2" fill="#808080" shape-rendering="crispEdges"/>
<rect x="717" y="432" width="2" height="2" fill="#808080" shape-rendering="crispEdges"/>
<rect x="730" y="420" width="2" height="2" fill="#808080" shape-rendering="crispEdges"/>
<rect x="861" y="353" width="2" height="2" fill="#808080" shape-rendering="crispEdges"/>
<rect x="865" y="373" width="2" height="2" fill="#808080" shape-rendering="crispEdges"/>
<rect x="864" y="349" width="2" height="2" fill="#808080" shape-rendering="crispEdges"/>
<rect x="868" y="389" width="2" height="2" fill="#808080" shape-rendering="crispEdges"/>
<rect x="854" y="354" width="2" height="2" fill="#808080" shape-rendering="crispEdges"/>
<rect x="865" y="376" width="2" height="2" fill="#808080" shape-rendering="crispEdges"/>
<rect x="859" y="354" width="2" height="2" fill="#808080" shape-rendering="crispEdges"/>
<rect x="861" y="362" width="2" height="2" fill="#808080" shape-rendering="crispEdges"/>
<rect x="854" y="372" width="2" height="2" fill="#808080" shape-rendering="crispEdges"/>
<rect x="853" y="378" width="2" height="2" fill="#808080" shape-rendering="crispEdges"/>
<rect x="853" y="392" width="2" height="2" fill="#808080" shape-rendering="crispEdges"/>
<rect x="856" y="381" width="2" height="2" fill="#808080" shape-rendering="crispEdges"/>
<rect x="864" y="377" width="2" height="2" fill="#808080" shape-rendering="crispEdges"/>
<rect x="855" y="362" width="2" height="2" fill="#808080" shape-rendering="crispEdges"/>
<rect x="850" y="353" width="2" height="2" fill="#808080" shape-rendering="crispEdges"/>
<rect x="853" y="383" width="2" height="2" fill="#808080" shape-rendering="crispEdges"/>
<rect x="857" y="369" width="2" height="2" fill="#808080" shape-rendering="crispEdges"/>
<rect x="853" y="366" width="2" height="2" fill="#808080" shape-rendering="crispEdges"/>
<rect x="857" y="354" width="2" height="2" fill="#808080" shape-rendering="crispEdges"/>
<rect x="860" y="358" width="2" height="2" fill="#808080" shape-rendering="crispEdges"/>
<rect x="850" y="385" width="2" height="2" fill="#808080" shape-rendering="crispEdges"/>
<rect x="857" y="370" width="2" height="2" fill="#808080" shape-rendering="crispEdges"/>
<rect x="850" y="393" width="2" height="2" fill="#808080" shape-rendering="crispEdges"/>
<rect x="860" y="356" width="2" height="2" fill="#808080" shape-rendering="crispEdges"/>
<rect x="868" y="392" width="2" height="2" fill="#808080" shape-rendering="crispEdges"/>
<rect x="862" y="384" width="2" height="2" fill="#808080" shape-rendering="crispEdges"/>
<rect x="854" y="387" width="2" height="2" fill="#808080" shape-rendering="crispEdges"/>
<rect x="863" y="368" width="2" height="2" fill="#808080" shape-rendering="crispEdges"/>
<rect x="866" y="350" width="2" height="2" fill="#808080" shape-rendering="crispEdges"/>
<rect x="862" y="373" width="2" height="2" fill="#808080" shape-rendering="crispEdges"/>
<rect x="856" y="368" width="2" height="2" fill="#808080" shape-rendering="crispEdges"/>
<rect x="862" y="357" width="2" height="2" fill="#808080" shape-rendering="crispEdges"/>
<rect x="852" y="357" width="2" height="2" fill="#808080" shape-rendering="crispEdges"/>
<rect x="863" y="357" width="2" height="2" fill="#808080" shape-rendering="crispEdges"/>
<rect x="869" y="346" width="2" height="2" fill="#808080" shape-rendering="crispEdges"/>
<rect x="862" y="393" width="2" height="2" fill="#808080" shape-rendering="crispEdges"/>
<rect x="854" y="367" width="2" height="2" fill="#808080" shape-rendering="crispEdges"/>
<rect x="864" y="362" width="2" height="2" fill="#808080" shape-rendering="crispEdges"/>
<rect x="862" y="347" width="2" height="2" fill="#808080" shape-rendering="crispEdges"/>
<rect x="852" y="377" width="2" height="2" fill="#808080" shape-rendering="crispEdges"/>
<rect x="856" y="370" width="8" height="2" fill="#808080" shape-rendering="crispEdges"/>
<rect x="852" y="378" width="7" height="2" fill="#808080" shape-rendering="crispEdges"/>
<rect x="860" y="386" width="6" height="2" fill="#808080" shape-rendering="crispEdges"/>
<path d="M151.5,462.5 L152.4,456.1 L153.3,449.5 L154.2,444.9 L155.1,441.6 L156.0,443.3 L156.9,441.6 L157.8,445.9 L158.7,450.2 L159.6,451.0 L160.5,453.0 L161.4,451.7 L162.3,456.6 L163.2,458.2 L164.1,459.9 L165.0,461.6 L165.9,458.8 L166.8,447.9 L167.7,443.9 L168.6,438.5 L169.5,438.0 L170.4,436.8 L171.3,432.3 L172.2,430.6 L173.1,427.7 L174.0,430.8 L174.9,438.0 L175.8,440.6 L176.7,440.6 L177.6,446.8 L178.5,449.8 L179.4,455.3 L180.3,450.3 L181.2,445.5 L182.1,444.7 L183.0,448.6 L183.9,450.2 L184.8,444.8 L185.7,441.8 L186.6,443.7 L187.5,443.7 L188.4,444.7 L189.3,437.6 L190.2,433.9 L191.1,426.8 L192.0,422.7 L192.9,420.5 L193.8,417.3 L194.7,412.5 L195.6,409.0 L196.5,411.1 L197.4,411.2 L198.3,409.0 L199.2,407.5 L200.1,406.1 L201.0,400.3 L201.9,398.6 L202.8,402.6 L203.7,402.8 L204.6,408.7 L205.5,411.8 L206.4,415.4 L207.3,414.3 L208.2,411.3 L209.1,409.8 L210.0,405.3 L210.9,406.5 L211.8,410.3 L212.7,412.9 L213.6,421.5 L214.5,424.2 L215.4,433.2 L216.3,440.8 L217.2,443.1 L218.1,449.1 L219.0,450.8 L219.9,446.9 L220.8,430.1 L221.7,426.6 L222.6,437.2 L223.5,441.0 L224.4,439.9 L225.3,438.5 L226.2,435.1 L227.1,439.8 L228.0,443.6 L228.9,448.0 L229.8,443.0 L230.7,437.2 L231.6,432.7 L232.5,426.0 L233.4,420.9 L234.3,418.8 L235.2,424.3 L236.1,422.3 L237.0,420.3 L237.9,416.8 L238.8,415.4 L239.7,412.5 L240.6,408.4 L241.5,401.4 L242.4,394.5 L243.3,392.2 L244.2,394.8 L245.1,401.7 L246.0,405.0 L246.9,409.8 L247.8,411.9 L248.7,413.8 L249.6,412.3 L250.5,417.4 L251.4,424.5 L252.3,430.6 L253.2,440.1 L254.1,447.0 L255.0,453.2 L255.9,455.1 L256.8,449.1 L257.7,433.8 L258.6,422.9 L259.5,416.1 L260.4,410.4 L261.3,407.1 L262.2,404.4 L263.1,408.2 L264.0,413.7 L264.9,412.7 L265.8,411.6 L266.7,418.0 L267.6,425.7 L268.5,429.2 L269.4,425.5 L270.3,429.2 L271.2,429.6 L272.1,434.9 L273.0,433.2 L273.9,441.3 L274.8,441.5 L275.7,448.1 L276.6,456.7 L277.5,455.9 L278.4,458.1 L279.3,459.9 L280.2,460.9 L281.1,462.0" fill="none" stroke="#000" stroke-width="1.2" stroke-linejoin="miter" shape-rendering="crispEdges" />
<path d="M443.5,462.5 L444.4,449.4 L445.3,443.9 L446.2,440.7 L447.1,448.5 L448.0,453.1 L448.9,451.7 L449.8,444.6 L450.7,447.3 L451.6,447.6 L452.5,443.8 L453.4,437.8 L454.3,427.9 L455.2,422.9 L456.1,420.9 L457.0,411.9 L457.9,410.6 L458.8,403.0 L459.7,389.8 L460.6,379.9 L461.5,377.2 L462.4,373.7 L463.3,369.6 L464.2,370.4 L465.1,379.4 L466.0,376.6 L466.9,371.0 L467.8,373.3 L468.7,374.5 L469.6,376.5 L470.5,373.4 L471.4,377.4 L472.3,384.3 L473.2,389.3 L474.1,400.6 L475.0,402.0 L475.9,401.6 L476.8,392.4 L477.7,387.5 L478.6,385.1 L479.5,379.5 L480.4,379.0 L481.3,385.3 L482.2,377.5 L483.1,371.3 L484.0,369.4 L484.9,375.6 L485.8,384.6 L486.7,390.9 L487.6,398.9 L488.5,389.8 L489.4,381.0 L490.3,379.4 L491.2,376.3 L492.1,377.3 L493.0,376.5 L493.9,382.0 L494.8,383.5 L495.7,380.6 L496.6,378.6 L497.5,381.6 L498.4,388.1 L499.3,387.8 L500.2,387.2 L501.1,381.3 L502.0,378.1 L502.9,376.9 L503.8,379.8 L504.7,377.4 L505.6,382.1 L506.5,386.7 L507.4,388.5 L508.3,391.2 L509.2,400.9 L510.1,406.0 L511.0,415.0 L511.9,416.1 L512.8,410.4 L513.7,404.8 L514.6,398.2 L515.5,394.2 L516.4,393.4 L517.3,393.2 L518.2,390.8 L519.1,390.6 L520.0,395.2 L520.9,395.0 L521.8,393.8 L522.7,390.7 L523.6,395.2 L524.5,402.4 L525.4,400.0 L526.3,398.5 L527.2,396.2 L528.1,395.9 L529.0,400.9 L529.9,394.0 L530.8,394.0 L531.7,396.7 L532.6,398.4 L533.5,399.9 L534.4,394.4 L535.3,390.4 L536.2,382.1 L537.1,378.7 L538.0,376.1 L538.9,373.2 L539.8,375.5 L540.7,376.4 L541.6,375.2 L542.5,377.5 L543.4,373.8 L544.3,378.2 L545.2,379.7 L546.1,381.8 L547.0,385.2 L547.9,378.2 L548.8,378.3 L549.7,383.2 L550.6,389.2 L551.5,388.0 L552.4,386.8 L553.3,385.3 L554.2,384.2 L555.1,378.8 L556.0,381.1 L556.9,380.9 L557.8,385.1 L558.7,388.2 L559.6,390.1 L560.5,396.0 L561.4,394.0 L562.3,386.0 L563.2,383.6 L564.1,387.1 L565.0,389.9 L565.9,390.2 L566.8,383.7 L567.7,380.4 L568.6,378.3 L569.5,379.0 L570.4,379.0 L571.3,378.5 L572.2,370.4 L573.1,372.6 L574.0,380.2 L574.9,383.8 L575.8,383.0 L576.7,385.5 L577.6,387.9 L578.5,395.5 L579.4,396.7 L580.3,404.8 L581.2,416.6 L582.1,422.7 L583.0,435.2 L583.9,435.9 L584.8,431.2 L585.7,430.6 L586.6,426.7 L587.5,418.8 L588.4,412.5 L589.3,411.7 L590.2,405.3 L591.1,404.1 L592.0,408.6 L592.9,411.6 L593.8,408.1 L594.7,409.7 L595.6,416.4 L596.5,416.2 L597.4,420.4 L598.3,421.9 L599.2,425.0 L600.1,431.6 L601.0,435.5 L601.9,435.9 L602.8,443.0 L603.7,449.5 L604.6,451.6 L605.5,453.5 L606.4,455.2 L607.3,456.8 L608.2,458.3 L609.1,459.8 L610.0,460.7 L610.9,461.2 L611.8,461.6 L612.7,462.1" fill="none" stroke="#000" stroke-width="1.2" stroke-linejoin="miter" shape-rendering="crispEdges" />
<path d="M682.0,462.5 L682.9,460.3 L683.8,458.2 L684.7,455.2 L685.6,451.9 L686.5,442.5 L687.4,447.8 L688.3,445.7 L689.2,441.5 L690.1,437.6 L691.0,433.6 L691.9,433.6 L692.8,434.0 L693.7,425.9 L694.6,421.5 L695.5,414.7 L696.4,410.2 L697.3,411.9 L698.2,410.1 L699.1,405.0 L700.0,396.6 L700.9,395.9 L701.8,385.2 L702.7,385.2 L703.6,375.2 L704.5,369.1 L705.4,368.5 L706.3,368.6 L707.2,376.6 L708.1,373.4 L709.0,356.4 L709.9,369.8 L710.8,375.8 L711.7,378.2 L712.6,384.4 L713.5,383.5 L714.4,390.1 L715.3,391.8 L716.2,391.1 L717.1,381.9 L718.0,366.2 L718.9,363.3 L719.8,357.7 L720.7,355.3 L721.6,354.1 L722.5,345.2 L723.4,342.8 L724.3,327.6 L725.2,317.9 L726.1,325.9 L727.0,327.3 L727.9,333.8 L728.8,347.2 L729.7,367.3 L730.6,376.7 L731.5,378.2 L732.4,370.6 L733.3,366.7 L734.2,372.0 L735.1,365.5 L736.0,361.3 L736.9,372.9 L737.8,375.6 L738.7,372.1 L739.6,362.0 L740.5,345.5 L741.4,345.7 L742.3,347.4 L743.2,348.3 L744.1,352.2 L745.0,347.5 L745.9,348.7 L746.8,361.9 L747.7,369.0 L748.6,377.5 L749.5,377.6 L750.4,377.0 L751.3,366.2 L752.2,375.9 L753.1,381.6 L754.0,388.8 L754.9,390.1 L755.8,391.8 L756.7,401.4 L757.6,403.8 L758.5,404.7 L759.4,410.7 L760.3,412.4 L761.2,415.6 L762.1,411.0 L763.0,405.2 L763.9,406.2 L764.8,407.9 L765.7,404.6 L766.6,400.4 L767.5,400.8 L768.4,397.2 L769.3,389.7 L770.2,377.0 L771.1,370.7 L772.0,368.6 L772.9,367.3 L773.8,373.5 L774.7,377.0 L775.6,372.0 L776.5,361.8 L777.4,362.8 L778.3,361.1 L779.2,361.4 L780.1,364.8 L781.0,360.7 L781.9,355.6 L782.8,362.7 L783.7,360.1 L784.6,336.3 L785.5,332.7 L786.4,338.9 L787.3,351.5 L788.2,365.1 L789.1,369.3 L790.0,364.9 L790.9,355.5 L791.8,353.1 L792.7,351.2 L793.6,359.3 L794.5,360.6 L795.4,361.7 L796.3,366.6 L797.2,371.4 L798.1,372.1 L799.0,368.9 L799.9,363.1 L800.8,355.2 L801.7,345.7 L802.6,338.0 L803.5,335.4 L804.4,342.5 L805.3,348.4 L806.2,351.7 L807.1,356.6 L808.0,363.1 L808.9,361.6 L809.8,366.0 L810.7,367.2 L811.6,359.5 L812.5,361.6 L813.4,366.4 L814.3,369.3 L815.2,367.2 L816.1,360.1 L817.0,356.9 L817.9,345.9 L818.8,341.0 L819.7,340.8 L820.6,349.3 L821.5,358.5 L822.4,360.0 L823.3,367.3 L824.2,375.2 L825.1,379.0 L826.0,378.8 L826.9,382.0 L827.8,387.0 L828.7,383.4 L829.6,374.3 L830.5,374.6 L831.4,369.5 L832.3,368.5 L833.2,361.4 L834.1,357.1 L835.0,355.3 L835.9,354.3 L836.8,346.0 L837.7,352.5 L838.6,360.9 L839.5,367.8 L840.4,361.8 L841.3,353.0 L842.2,350.2 L843.1,353.1 L844.0,369.8 L844.9,377.8 L845.8,367.6 L846.7,362.2 L847.6,357.3 L848.5,351.8 L849.4,341.6 L850.3,338.9 L851.2,338.2 L852.1,346.1 L853.0,345.0 L853.9,350.5 L854.8,350.1 L855.7,348.0 L856.6,350.0 L857.5,349.5 L858.4,351.2 L859.3,344.8 L860.2,342.4 L861.1,341.3 L862.0,339.6 L862.9,327.0 L863.8,331.7 L864.7,331.6 L865.6,329.8 L866.5,326.6 L867.4,334.0 L868.3,333.1 L869.2,331.3 L870.1,335.1 L871.0,324.5" fill="none" stroke="#000" stroke-width="1.2" stroke-linejoin="miter" shape-rendering="crispEdges" />
<rect x="151" y="62" width="720" height="400" fill="none" stroke="#808080" stroke-width="2" shape-rendering="crispEdges"/>
<line x1="151.5" y1="463" x2="151.5" y2="467" stroke="#808080" stroke-width="1" shape-rendering="crispEdges" />
<text transform="translate(151.5,481) scale(1,1.08)" fill="#000" text-anchor="middle" style="font-size:11px;font-weight:normal" >00:00</text>
<line x1="211.5" y1="463" x2="211.5" y2="467" stroke="#808080" stroke-width="1" shape-rendering="crispEdges" />
<text transform="translate(211.5,481) scale(1,1.08)" fill="#000" text-anchor="middle" style="font-size:11px;font-weight:normal" >02:00</text>
<line x1="271.5" y1="463" x2="271.5" y2="467" stroke="#808080" stroke-width="1" shape-rendering="crispEdges" />
<text transform="translate(271.5,481) scale(1,1.08)" fill="#000" text-anchor="middle" style="font-size:11px;font-weight:normal" >04:00</text>
<line x1="331.5" y1="463" x2="331.5" y2="467" stroke="#808080" stroke-width="1" shape-rendering="crispEdges" />
<text transform="translate(331.5,481) scale(1,1.08)" fill="#000" text-anchor="middle" style="font-size:11px;font-weight:normal" >06:00</text>
<line x1="391.5" y1="463" x2="391.5" y2="467" stroke="#808080" stroke-width="1" shape-rendering="crispEdges" />
<text transform="translate(391.5,481) scale(1,1.08)" fill="#000" text-anchor="middle" style="font-size:11px;font-weight:normal" >08:00</text>
<line x1="451.5" y1="463" x2="451.5" y2="467" stroke="#808080" stroke-width="1" shape-rendering="crispEdges" />
<text transform="translate(451.5,481) scale(1,1.08)" fill="#000" text-anchor="middle" style="font-size:11px;font-weight:normal" >10:00</text>
<line x1="511.5" y1="463" x2="511.5" y2="467" stroke="#808080" stroke-width="1" shape-rendering="crispEdges" />
<text transform="translate(511.5,481) scale(1,1.08)" fill="#000" text-anchor="middle" style="font-size:11px;font-weight:normal" >12:00</text>
<line x1="571.5" y1="463" x2="571.5" y2="467" stroke="#808080" stroke-width="1" shape-rendering="crispEdges" />
<text transform="translate(571.5,481) scale(1,1.08)" fill="#000" text-anchor="middle" style="font-size:11px;font-weight:normal" >14:00</text>
<line x1="631.5" y1="463" x2="631.5" y2="467" stroke="#808080" stroke-width="1" shape-rendering="crispEdges" />
<text transform="translate(631.5,481) scale(1,1.08)" fill="#000" text-anchor="middle" style="font-size:11px;font-weight:normal" >16:00</text>
<line x1="691.5" y1="463" x2="691.5" y2="467" stroke="#808080" stroke-width="1" shape-rendering="crispEdges" />
<text transform="translate(691.5,481) scale(1,1.08)" fill="#000" text-anchor="middle" style="font-size:11px;font-weight:normal" >18:00</text>
<line x1="751.5" y1="463" x2="751.5" y2="467" stroke="#808080" stroke-width="1" shape-rendering="crispEdges" />
<text transform="translate(751.5,481) scale(1,1.08)" fill="#000" text-anchor="middle" style="font-size:11px;font-weight:normal" >20:00</text>
<line x1="811.5" y1="463" x2="811.5" y2="467" stroke="#808080" stroke-width="1" shape-rendering="crispEdges" />
<text transform="translate(811.5,481) scale(1,1.08)" fill="#000" text-anchor="middle" style="font-size:11px;font-weight:normal" >22:00</text>
<line x1="871.5" y1="463" x2="871.5" y2="467" stroke="#808080" stroke-width="1" shape-rendering="crispEdges" />
<text transform="translate(871.5,481) scale(1,1.08)" fill="#000" text-anchor="middle" style="font-size:11px;font-weight:normal" >24:00</text>
<line x1="40.5" y1="62" x2="40.5" y2="463" stroke="#808080" stroke-width="1" shape-rendering="crispEdges" />
<line x1="36" y1="62.5" x2="44" y2="62.5" stroke="#808080" stroke-width="1" shape-rendering="crispEdges" />
<text transform="translate(35,66.8) scale(1,1.08)" fill="#ff8040" text-anchor="end" style="font-size:11px;font-weight:normal" >30.0</text>
<line x1="36" y1="119.5" x2="40" y2="119.5" stroke="#808080" stroke-width="1" shape-rendering="crispEdges" />
<text transform="translate(35,123.8) scale(1,1.08)" fill="#ff8040" text-anchor="end" style="font-size:11px;font-weight:normal" >25.0</text>
<line x1="36" y1="176.5" x2="40" y2="176.5" stroke="#808080" stroke-width="1" shape-rendering="crispEdges" />
<text transform="translate(35,180.8) scale(1,1.08)" fill="#ff8040" text-anchor="end" style="font-size:11px;font-weight:normal" >20.0</text>
<line x1="36" y1="233.5" x2="40" y2="233.5" stroke="#808080" stroke-width="1" shape-rendering="crispEdges" />
<text transform="translate(35,237.8) scale(1,1.08)" fill="#ff8040" text-anchor="end" style="font-size:11px;font-weight:normal" >15.0</text>
<line x1="36" y1="291.5" x2="40" y2="291.5" stroke="#808080" stroke-width="1" shape-rendering="crispEdges" />
<text transform="translate(35,295.8) scale(1,1.08)" fill="#ff8040" text-anchor="end" style="font-size:11px;font-weight:normal" >10.0</text>
<line x1="36" y1="348.5" x2="40" y2="348.5" stroke="#808080" stroke-width="1" shape-rendering="crispEdges" />
<text transform="translate(35,352.8) scale(1,1.08)" fill="#ff8040" text-anchor="end" style="font-size:11px;font-weight:normal" >5.0</text>
<line x1="36" y1="405.5" x2="40" y2="405.5" stroke="#808080" stroke-width="1" shape-rendering="crispEdges" />
<text transform="translate(35,409.8) scale(1,1.08)" fill="#ff8040" text-anchor="end" style="font-size:11px;font-weight:normal" >0.0</text>
<line x1="36" y1="462.5" x2="44" y2="462.5" stroke="#808080" stroke-width="1" shape-rendering="crispEdges" />
<text transform="translate(35,466.8) scale(1,1.08)" fill="#ff8040" text-anchor="end" style="font-size:11px;font-weight:normal" >-5.0</text>
<line x1="77.5" y1="62" x2="77.5" y2="463" stroke="#808080" stroke-width="1" shape-rendering="crispEdges" />
<line x1="73" y1="62.5" x2="81" y2="62.5" stroke="#808080" stroke-width="1" shape-rendering="crispEdges" />
<text transform="translate(72,66.8) scale(1,1.08)" fill="#00e000" text-anchor="end" style="font-size:11px;font-weight:normal" >1020</text>
<line x1="73" y1="102.5" x2="77" y2="102.5" stroke="#808080" stroke-width="1" shape-rendering="crispEdges" />
<text transform="translate(72,106.8) scale(1,1.08)" fill="#00e000" text-anchor="end" style="font-size:11px;font-weight:normal" >1018</text>
<line x1="73" y1="142.5" x2="77" y2="142.5" stroke="#808080" stroke-width="1" shape-rendering="crispEdges" />
<text transform="translate(72,146.8) scale(1,1.08)" fill="#00e000" text-anchor="end" style="font-size:11px;font-weight:normal" >1016</text>
<line x1="73" y1="182.5" x2="77" y2="182.5" stroke="#808080" stroke-width="1" shape-rendering="crispEdges" />
<text transform="translate(72,186.8) scale(1,1.08)" fill="#00e000" text-anchor="end" style="font-size:11px;font-weight:normal" >1014</text>
<line x1="73" y1="222.5" x2="77" y2="222.5" stroke="#808080" stroke-width="1" shape-rendering="crispEdges" />
<text transform="translate(72,226.8) scale(1,1.08)" fill="#00e000" text-anchor="end" style="font-size:11px;font-weight:normal" >1012</text>
<line x1="73" y1="262.5" x2="77" y2="262.5" stroke="#808080" stroke-width="1" shape-rendering="crispEdges" />
<text transform="translate(72,266.8) scale(1,1.08)" fill="#00e000" text-anchor="end" style="font-size:11px;font-weight:normal" >1010</text>
<line x1="73" y1="302.5" x2="77" y2="302.5" stroke="#808080" stroke-width="1" shape-rendering="crispEdges" />
<text transform="translate(72,306.8) scale(1,1.08)" fill="#00e000" text-anchor="end" style="font-size:11px;font-weight:normal" >1008</text>
<line x1="73" y1="342.5" x2="77" y2="342.5" stroke="#808080" stroke-width="1" shape-rendering="crispEdges" />
<text transform="translate(72,346.8) scale(1,1.08)" fill="#00e000" text-anchor="end" style="font-size:11px;font-weight:normal" >1006</text>
<line x1="73" y1="382.5" x2="77" y2="382.5" stroke="#808080" stroke-width="1" shape-rendering="crispEdges" />
<text transform="translate(72,386.8) scale(1,1.08)" fill="#00e000" text-anchor="end" style="font-size:11px;font-weight:normal" >1004</text>
<line x1="73" y1="422.5" x2="77" y2="422.5" stroke="#808080" stroke-width="1" shape-rendering="crispEdges" />
<text transform="translate(72,426.8) scale(1,1.08)" fill="#00e000" text-anchor="end" style="font-size:11px;font-weight:normal" >1002</text>
<line x1="73" y1="462.5" x2="81" y2="462.5" stroke="#808080" stroke-width="1" shape-rendering="crispEdges" />
<text transform="translate(72,466.8) scale(1,1.08)" fill="#00e000" text-anchor="end" style="font-size:11px;font-weight:normal" >1000</text>
<line x1="114.5" y1="62" x2="114.5" y2="463" stroke="#808080" stroke-width="1" shape-rendering="crispEdges" />
<line x1="110" y1="62.5" x2="118" y2="62.5" stroke="#808080" stroke-width="1" shape-rendering="crispEdges" />
<text transform="translate(109,66.8) scale(1,1.08)" fill="#000" text-anchor="end" style="font-size:11px;font-weight:normal" >50.0</text>
<line x1="110" y1="102.5" x2="114" y2="102.5" stroke="#808080" stroke-width="1" shape-rendering="crispEdges" />
<text transform="translate(109,106.8) scale(1,1.08)" fill="#000" text-anchor="end" style="font-size:11px;font-weight:normal" >45.0</text>
<line x1="110" y1="142.5" x2="114" y2="142.5" stroke="#808080" stroke-width="1" shape-rendering="crispEdges" />
<text transform="translate(109,146.8) scale(1,1.08)" fill="#000" text-anchor="end" style="font-size:11px;font-weight:normal" >40.0</text>
<line x1="110" y1="182.5" x2="114" y2="182.5" stroke="#808080" stroke-width="1" shape-rendering="crispEdges" />
<text transform="translate(109,186.8) scale(1,1.08)" fill="#000" text-anchor="end" style="font-size:11px;font-weight:normal" >35.0</text>
<line x1="110" y1="222.5" x2="114" y2="222.5" stroke="#808080" stroke-width="1" shape-rendering="crispEdges" />
<text transform="translate(109,226.8) scale(1,1.08)" fill="#000" text-anchor="end" style="font-size:11px;font-weight:normal" >30.0</text>
<line x1="110" y1="262.5" x2="114" y2="262.5" stroke="#808080" stroke-width="1" shape-rendering="crispEdges" />
<text transform="translate(109,266.8) scale(1,1.08)" fill="#000" text-anchor="end" style="font-size:11px;font-weight:normal" >25.0</text>
<line x1="110" y1="302.5" x2="114" y2="302.5" stroke="#808080" stroke-width="1" shape-rendering="crispEdges" />
<text transform="translate(109,306.8) scale(1,1.08)" fill="#000" text-anchor="end" style="font-size:11px;font-weight:normal" >20.0</text>
<line x1="110" y1="342.5" x2="114" y2="342.5" stroke="#808080" stroke-width="1" shape-rendering="crispEdges" />
<text transform="translate(109,346.8) scale(1,1.08)" fill="#000" text-anchor="end" style="font-size:11px;font-weight:normal" >15.0</text>
<line x1="110" y1="382.5" x2="114" y2="382.5" stroke="#808080" stroke-width="1" shape-rendering="crispEdges" />
<text transform="translate(109,386.8) scale(1,1.08)" fill="#000" text-anchor="end" style="font-size:11px;font-weight:normal" >10.0</text>
<line x1="110" y1="422.5" x2="114" y2="422.5" stroke="#808080" stroke-width="1" shape-rendering="crispEdges" />
<text transform="translate(109,426.8) scale(1,1.08)" fill="#000" text-anchor="end" style="font-size:11px;font-weight:normal" >5.0</text>
<line x1="110" y1="462.5" x2="118" y2="462.5" stroke="#808080" stroke-width="1" shape-rendering="crispEdges" />
<text transform="translate(109,466.8) scale(1,1.08)" fill="#000" text-anchor="end" style="font-size:11px;font-weight:normal" >0.0</text>
<line x1="147" y1="62.5" x2="150" y2="62.5" stroke="#808080" stroke-width="1" shape-rendering="crispEdges" />
<text transform="translate(145.5,66.8) scale(1,1.08)" fill="#e6e600" text-anchor="end" style="font-size:11px;font-weight:normal" >20</text>
<line x1="147" y1="162.5" x2="150" y2="162.5" stroke="#808080" stroke-width="1" shape-rendering="crispEdges" />
<text transform="translate(145.5,166.8) scale(1,1.08)" fill="#e6e600" text-anchor="end" style="font-size:11px;font-weight:normal" >15</text>
<line x1="147" y1="262.5" x2="150" y2="262.5" stroke="#808080" stroke-width="1" shape-rendering="crispEdges" />
<text transform="translate(145.5,266.8) scale(1,1.08)" fill="#e6e600" text-anchor="end" style="font-size:11px;font-weight:normal" >10</text>
<line x1="147" y1="362.5" x2="150" y2="362.5" stroke="#808080" stroke-width="1" shape-rendering="crispEdges" />
<text transform="translate(145.5,366.8) scale(1,1.08)" fill="#e6e600" text-anchor="end" style="font-size:11px;font-weight:normal" >5</text>
<line x1="147" y1="462.5" x2="150" y2="462.5" stroke="#808080" stroke-width="1" shape-rendering="crispEdges" />
<text transform="translate(145.5,466.8) scale(1,1.08)" fill="#e6e600" text-anchor="end" style="font-size:11px;font-weight:normal" >0</text>
<text x="31" y="51" fill="#ff8040" text-anchor="end" style="font-size:11px;font-weight:normal" >°C</text>
<text x="67.5" y="51" fill="#00e000" text-anchor="end" style="font-size:11px;font-weight:normal" >hPa</text>
<text x="104" y="51" fill="#000" text-anchor="end" style="font-size:11px;font-weight:normal" >km/h</text>
<text x="142" y="51" fill="#e6e600" text-anchor="end" style="font-size:11px;font-weight:normal" >min</text>
<line x1="872" y1="62.5" x2="876" y2="62.5" stroke="#808080" stroke-width="1" shape-rendering="crispEdges" />
<text transform="translate(877,66.8) scale(1,1.08)" fill="#0000e0" text-anchor="start" style="font-size:11px;font-weight:normal" >100</text>
<line x1="872" y1="102.5" x2="876" y2="102.5" stroke="#808080" stroke-width="1" shape-rendering="crispEdges" />
<text transform="translate(877,106.8) scale(1,1.08)" fill="#0000e0" text-anchor="start" style="font-size:11px;font-weight:normal" >90</text>
<line x1="872" y1="142.5" x2="876" y2="142.5" stroke="#808080" stroke-width="1" shape-rendering="crispEdges" />
<text transform="translate(877,146.8) scale(1,1.08)" fill="#0000e0" text-anchor="start" style="font-size:11px;font-weight:normal" >80</text>
<line x1="872" y1="182.5" x2="876" y2="182.5" stroke="#808080" stroke-width="1" shape-rendering="crispEdges" />
<text transform="translate(877,186.8) scale(1,1.08)" fill="#0000e0" text-anchor="start" style="font-size:11px;font-weight:normal" >70</text>
<line x1="872" y1="222.5" x2="876" y2="222.5" stroke="#808080" stroke-width="1" shape-rendering="crispEdges" />
<text transform="translate(877,226.8) scale(1,1.08)" fill="#0000e0" text-anchor="start" style="font-size:11px;font-weight:normal" >60</text>
<line x1="872" y1="262.5" x2="876" y2="262.5" stroke="#808080" stroke-width="1" shape-rendering="crispEdges" />
<text transform="translate(877,266.8) scale(1,1.08)" fill="#0000e0" text-anchor="start" style="font-size:11px;font-weight:normal" >50</text>
<line x1="872" y1="302.5" x2="876" y2="302.5" stroke="#808080" stroke-width="1" shape-rendering="crispEdges" />
<text transform="translate(877,306.8) scale(1,1.08)" fill="#0000e0" text-anchor="start" style="font-size:11px;font-weight:normal" >40</text>
<line x1="872" y1="342.5" x2="876" y2="342.5" stroke="#808080" stroke-width="1" shape-rendering="crispEdges" />
<text transform="translate(877,346.8) scale(1,1.08)" fill="#0000e0" text-anchor="start" style="font-size:11px;font-weight:normal" >30</text>
<line x1="872" y1="382.5" x2="876" y2="382.5" stroke="#808080" stroke-width="1" shape-rendering="crispEdges" />
<text transform="translate(877,386.8) scale(1,1.08)" fill="#0000e0" text-anchor="start" style="font-size:11px;font-weight:normal" >20</text>
<line x1="872" y1="422.5" x2="876" y2="422.5" stroke="#808080" stroke-width="1" shape-rendering="crispEdges" />
<text transform="translate(877,426.8) scale(1,1.08)" fill="#0000e0" text-anchor="start" style="font-size:11px;font-weight:normal" >10</text>
<line x1="872" y1="462.5" x2="876" y2="462.5" stroke="#808080" stroke-width="1" shape-rendering="crispEdges" />
<text transform="translate(877,466.8) scale(1,1.08)" fill="#0000e0" text-anchor="start" style="font-size:11px;font-weight:normal" >0</text>
<line x1="908.5" y1="62" x2="908.5" y2="463" stroke="#808080" stroke-width="1" shape-rendering="crispEdges" />
<line x1="904" y1="62.5" x2="913" y2="62.5" stroke="#808080" stroke-width="1" shape-rendering="crispEdges" />
<text transform="translate(914.5,66.8) scale(1,1.08)" fill="#00ffff" text-anchor="start" style="font-size:11px;font-weight:normal" >5.0</text>
<line x1="909" y1="142.5" x2="913" y2="142.5" stroke="#808080" stroke-width="1" shape-rendering="crispEdges" />
<text transform="translate(914.5,146.8) scale(1,1.08)" fill="#00ffff" text-anchor="start" style="font-size:11px;font-weight:normal" >4.0</text>
<line x1="909" y1="222.5" x2="913" y2="222.5" stroke="#808080" stroke-width="1" shape-rendering="crispEdges" />
<text transform="translate(914.5,226.8) scale(1,1.08)" fill="#00ffff" text-anchor="start" style="font-size:11px;font-weight:normal" >3.0</text>
<line x1="909" y1="302.5" x2="913" y2="302.5" stroke="#808080" stroke-width="1" shape-rendering="crispEdges" />
<text transform="translate(914.5,306.8) scale(1,1.08)" fill="#00ffff" text-anchor="start" style="font-size:11px;font-weight:normal" >2.0</text>
<line x1="909" y1="382.5" x2="913" y2="382.5" stroke="#808080" stroke-width="1" shape-rendering="crispEdges" />
<text transform="translate(914.5,386.8) scale(1,1.08)" fill="#00ffff" text-anchor="start" style="font-size:11px;font-weight:normal" >1.0</text>
<line x1="904" y1="462.5" x2="913" y2="462.5" stroke="#808080" stroke-width="1" shape-rendering="crispEdges" />
<text transform="translate(914.5,466.8) scale(1,1.08)" fill="#00ffff" text-anchor="start" style="font-size:11px;font-weight:normal" >0.0</text>
<line x1="945.5" y1="62" x2="945.5" y2="463" stroke="#808080" stroke-width="1" shape-rendering="crispEdges" />
<line x1="941" y1="62.5" x2="950" y2="62.5" stroke="#808080" stroke-width="1" shape-rendering="crispEdges" />
<text transform="translate(951,66.8) scale(1,1.08)" fill="#808080" text-anchor="start" style="font-size:11px;font-weight:normal" >360</text>
<line x1="946" y1="95.5" x2="950" y2="95.5" stroke="#808080" stroke-width="1" shape-rendering="crispEdges" />
<text transform="translate(951,99.8) scale(1,1.08)" fill="#808080" text-anchor="start" style="font-size:11px;font-weight:normal" >330</text>
<line x1="946" y1="129.5" x2="950" y2="129.5" stroke="#808080" stroke-width="1" shape-rendering="crispEdges" />
<text transform="translate(951,133.8) scale(1,1.08)" fill="#808080" text-anchor="start" style="font-size:11px;font-weight:normal" >300</text>
<line x1="946" y1="162.5" x2="950" y2="162.5" stroke="#808080" stroke-width="1" shape-rendering="crispEdges" />
<text transform="translate(951,166.8) scale(1,1.08)" fill="#808080" text-anchor="start" style="font-size:11px;font-weight:normal" >270</text>
<line x1="946" y1="195.5" x2="950" y2="195.5" stroke="#808080" stroke-width="1" shape-rendering="crispEdges" />
<text transform="translate(951,199.8) scale(1,1.08)" fill="#808080" text-anchor="start" style="font-size:11px;font-weight:normal" >240</text>
<line x1="946" y1="229.5" x2="950" y2="229.5" stroke="#808080" stroke-width="1" shape-rendering="crispEdges" />
<text transform="translate(951,233.8) scale(1,1.08)" fill="#808080" text-anchor="start" style="font-size:11px;font-weight:normal" >210</text>
<line x1="946" y1="262.5" x2="950" y2="262.5" stroke="#808080" stroke-width="1" shape-rendering="crispEdges" />
<text transform="translate(951,266.8) scale(1,1.08)" fill="#808080" text-anchor="start" style="font-size:11px;font-weight:normal" >180</text>
<line x1="946" y1="295.5" x2="950" y2="295.5" stroke="#808080" stroke-width="1" shape-rendering="crispEdges" />
<text transform="translate(951,299.8) scale(1,1.08)" fill="#808080" text-anchor="start" style="font-size:11px;font-weight:normal" >150</text>
<line x1="946" y1="329.5" x2="950" y2="329.5" stroke="#808080" stroke-width="1" shape-rendering="crispEdges" />
<text transform="translate(951,333.8) scale(1,1.08)" fill="#808080" text-anchor="start" style="font-size:11px;font-weight:normal" >120</text>
<line x1="946" y1="362.5" x2="950" y2="362.5" stroke="#808080" stroke-width="1" shape-rendering="crispEdges" />
<text transform="translate(951,366.8) scale(1,1.08)" fill="#808080" text-anchor="start" style="font-size:11px;font-weight:normal" >90</text>
<line x1="946" y1="395.5" x2="950" y2="395.5" stroke="#808080" stroke-width="1" shape-rendering="crispEdges" />
<text transform="translate(951,399.8) scale(1,1.08)" fill="#808080" text-anchor="start" style="font-size:11px;font-weight:normal" >60</text>
<line x1="946" y1="429.5" x2="950" y2="429.5" stroke="#808080" stroke-width="1" shape-rendering="crispEdges" />
<text transform="translate(951,433.8) scale(1,1.08)" fill="#808080" text-anchor="start" style="font-size:11px;font-weight:normal" >30</text>
<line x1="941" y1="462.5" x2="950" y2="462.5" stroke="#808080" stroke-width="1" shape-rendering="crispEdges" />
<text transform="translate(951,466.8) scale(1,1.08)" fill="#808080" text-anchor="start" style="font-size:11px;font-weight:normal" >0</text>
<text transform="translate(972.5,66.8) scale(1,1.08)" fill="#808080" text-anchor="start" style="font-size:11px;font-weight:normal" >N</text>
<text transform="translate(972.5,166.8) scale(1,1.08)" fill="#808080" text-anchor="start" style="font-size:11px;font-weight:normal" >W</text>
<text transform="translate(972.5,266.8) scale(1,1.08)" fill="#808080" text-anchor="start" style="font-size:11px;font-weight:normal" >S</text>
<text transform="translate(972.5,366.8) scale(1,1.08)" fill="#808080" text-anchor="start" style="font-size:11px;font-weight:normal" >O</text>
<text transform="translate(972.5,466.8) scale(1,1.08)" fill="#808080" text-anchor="start" style="font-size:11px;font-weight:normal" >N</text>
<line x1="982.5" y1="62" x2="982.5" y2="463" stroke="#808080" stroke-width="1" shape-rendering="crispEdges" />
<line x1="978" y1="62.5" x2="987" y2="62.5" stroke="#808080" stroke-width="1" shape-rendering="crispEdges" />
<text transform="translate(988,66.8) scale(1,1.08)" fill="#ff8080" text-anchor="start" style="font-size:11px;font-weight:normal" >600</text>
<line x1="983" y1="129.5" x2="987" y2="129.5" stroke="#808080" stroke-width="1" shape-rendering="crispEdges" />
<text transform="translate(988,133.8) scale(1,1.08)" fill="#ff8080" text-anchor="start" style="font-size:11px;font-weight:normal" >500</text>
<line x1="983" y1="195.5" x2="987" y2="195.5" stroke="#808080" stroke-width="1" shape-rendering="crispEdges" />
<text transform="translate(988,199.8) scale(1,1.08)" fill="#ff8080" text-anchor="start" style="font-size:11px;font-weight:normal" >400</text>
<line x1="983" y1="262.5" x2="987" y2="262.5" stroke="#808080" stroke-width="1" shape-rendering="crispEdges" />
<text transform="translate(988,266.8) scale(1,1.08)" fill="#ff8080" text-anchor="start" style="font-size:11px;font-weight:normal" >300</text>
<line x1="983" y1="329.5" x2="987" y2="329.5" stroke="#808080" stroke-width="1" shape-rendering="crispEdges" />
<text transform="translate(988,333.8) scale(1,1.08)" fill="#ff8080" text-anchor="start" style="font-size:11px;font-weight:normal" >200</text>
<line x1="983" y1="395.5" x2="987" y2="395.5" stroke="#808080" stroke-width="1" shape-rendering="crispEdges" />
<text transform="translate(988,399.8) scale(1,1.08)" fill="#ff8080" text-anchor="start" style="font-size:11px;font-weight:normal" >100</text>
<line x1="978" y1="462.5" x2="987" y2="462.5" stroke="#808080" stroke-width="1" shape-rendering="crispEdges" />
<text transform="translate(988,466.8) scale(1,1.08)" fill="#ff8080" text-anchor="start" style="font-size:11px;font-weight:normal" >0</text>
<text x="872" y="51" fill="#0000e0" text-anchor="start" style="font-size:11px;font-weight:normal" >%</text>
<text x="908.5" y="51" fill="#00ffff" text-anchor="start" style="font-size:11px;font-weight:normal" >l/m²</text>
<text x="946" y="49" fill="#808080" text-anchor="start" style="font-size:11px;font-weight:normal" >°</text>
<text x="982" y="51" fill="#ff8080" text-anchor="start" style="font-size:11px;font-weight:normal" >W/m²</text>
<rect x="398" y="459" width="2" height="12" fill="#f0e020" shape-rendering="crispEdges"/>
<rect x="633" y="458" width="2" height="13" fill="#f0e020" shape-rendering="crispEdges"/>
<rect x="448" y="463" width="2" height="8" fill="#707070" shape-rendering="crispEdges"/>
<rect x="657" y="458" width="2" height="13" fill="#707070" shape-rendering="crispEdges"/>
<text transform="translate(10,492) scale(1,1.08)" fill="#000" text-anchor="start" style="font-size:11px">07:49</text>
<path d="M40,491 L40,489 Q40,485 44.5,485 Q49,485 49,489 L49,491 Z" fill="#ffff00"/>
<text transform="translate(392,492) scale(1,1.08)" fill="#000" text-anchor="end" style="font-size:11px">08:15</text>
<g stroke="#ffff90" stroke-width="1">
<line x1="402.3" y1="489.1" x2="405.2" y2="490.4"/>
<line x1="400.6" y1="490.8" x2="401.9" y2="493.7"/>
<line x1="398.4" y1="490.8" x2="397.1" y2="493.7"/>
<line x1="396.7" y1="489.1" x2="393.8" y2="490.4"/>
<line x1="396.7" y1="486.9" x2="393.8" y2="485.6"/>
<line x1="398.4" y1="485.2" x2="397.1" y2="482.3"/>
<line x1="400.6" y1="485.2" x2="401.9" y2="482.3"/>
<line x1="402.3" y1="486.9" x2="405.2" y2="485.6"/>
</g>
<circle cx="399.5" cy="488" r="3.6" fill="#ffff00"/>
<rect x="444.5" y="482.5" width="5" height="5" fill="none" stroke="#4040d0" stroke-width="1" stroke-dasharray="2,1.5" shape-rendering="crispEdges"/>
<path d="M451.5,485 L455,490 L453,490 L453,493 L450,493 L450,490 L448,490 Z" fill="#ffff00" stroke="#a0a000" stroke-width="0.4"/>
<text transform="translate(456.5,492) scale(1,1.08)" fill="#000" text-anchor="start" style="font-size:11px">09:56</text>
<text transform="translate(627.5,492) scale(1,1.08)" fill="#000" text-anchor="end" style="font-size:11px">16:05</text>
<rect x="631.5" y="485.5" width="5" height="5" fill="none" stroke="#ffff00" stroke-width="1" shape-rendering="crispEdges"/>
<path d="M655,482.5 L658,482.5 L658,486 L660,486 L656.5,491 L653,486 L655,486 Z" fill="#ffff00" stroke="#a0a000" stroke-width="0.4"/>
<path d="M659.5,490.5 L664,490.5 M664,490.5 L664,493" fill="none" stroke="#4040d0" stroke-width="1" stroke-dasharray="2,1.5" shape-rendering="crispEdges"/>
<text transform="translate(665,492) scale(1,1.08)" fill="#000" text-anchor="start" style="font-size:11px">16:53</text>
<rect x="0" y="501" width="1021" height="80" fill="#cef9f8"/>
<rect x="87" y="501" width="2" height="80" fill="#a0a0a0" shape-rendering="crispEdges"/>
<rect x="204" y="501" width="2" height="80" fill="#a0a0a0" shape-rendering="crispEdges"/>
<rect x="322" y="501" width="2" height="80" fill="#a0a0a0" shape-rendering="crispEdges"/>
<rect x="440" y="501" width="2" height="80" fill="#a0a0a0" shape-rendering="crispEdges"/>
<rect x="558" y="501" width="2" height="80" fill="#a0a0a0" shape-rendering="crispEdges"/>
<rect x="677" y="501" width="2" height="80" fill="#a0a0a0" shape-rendering="crispEdges"/>
<rect x="794" y="501" width="2" height="80" fill="#a0a0a0" shape-rendering="crispEdges"/>
<text transform="translate(9,519) scale(1,1.08)" fill="#000" text-anchor="start" style="font-size:11px;font-weight:bold;letter-spacing:0.3px" >Sensor</text>
<text transform="translate(9,535) scale(1,1.08)" fill="#000" text-anchor="start" style="font-size:11px;font-weight:bold;letter-spacing:0.3px" >MinWert</text>
<text transform="translate(9,551) scale(1,1.08)" fill="#000" text-anchor="start" style="font-size:11px;font-weight:bold;letter-spacing:0.3px" >MaxWert</text>
<text transform="translate(9,567) scale(1,1.08)" fill="#000" text-anchor="start" style="font-size:11px;font-weight:bold;letter-spacing:0.3px" >Durchschnitt</text>
<text transform="translate(9,583) scale(1,1.08)" fill="#000" text-anchor="start" style="font-size:11px;font-weight:bold;letter-spacing:0.3px" >21.12. 23:59</text>
<text transform="translate(95,519) scale(1,1.08)" fill="#000" text-anchor="start" style="font-size:11px;font-weight:bold;letter-spacing:0.3px" >Temp. A.</text>
<text transform="translate(198,519) scale(1,1.08)" fill="#000" text-anchor="end" style="font-size:11px;font-weight:bold;letter-spacing:0.3px" >°C</text>
<text transform="translate(100,535) scale(1,1.08)" fill="#000" text-anchor="start" style="font-size:11px;font-weight:normal" >08:48</text>
<text transform="translate(198,535) scale(1,1.08)" fill="#000" text-anchor="end" style="font-size:11px;font-weight:normal" >2.8</text>
<text transform="translate(100,551) scale(1,1.08)" fill="#000" text-anchor="start" style="font-size:11px;font-weight:normal" >13:22</text>
<text transform="translate(198,551) scale(1,1.08)" fill="#000" text-anchor="end" style="font-size:11px;font-weight:normal" >8.8</text>
<text transform="translate(198,567) scale(1,1.08)" fill="#000" text-anchor="end" style="font-size:11px;font-weight:normal" >5.91</text>
<text transform="translate(198,583) scale(1,1.08)" fill="#000" text-anchor="end" style="font-size:11px;font-weight:bold;letter-spacing:0.3px" >5.3</text>
<text transform="translate(212,519) scale(1,1.08)" fill="#000" text-anchor="start" style="font-size:11px;font-weight:bold;letter-spacing:0.3px" >Feuchte A.</text>
<text transform="translate(316,519) scale(1,1.08)" fill="#000" text-anchor="end" style="font-size:11px;font-weight:bold;letter-spacing:0.3px" >%</text>
<text transform="translate(218,535) scale(1,1.08)" fill="#000" text-anchor="start" style="font-size:11px;font-weight:normal" >12:51</text>
<text transform="translate(316,535) scale(1,1.08)" fill="#000" text-anchor="end" style="font-size:11px;font-weight:normal" >82</text>
<text transform="translate(218,551) scale(1,1.08)" fill="#000" text-anchor="start" style="font-size:11px;font-weight:normal" >10:21</text>
<text transform="translate(316,551) scale(1,1.08)" fill="#000" text-anchor="end" style="font-size:11px;font-weight:normal" >95</text>
<text transform="translate(316,567) scale(1,1.08)" fill="#000" text-anchor="end" style="font-size:11px;font-weight:normal" >91</text>
<text transform="translate(215,583) scale(1,1.08)" fill="#000" text-anchor="start" style="font-size:11px;font-weight:normal" >6.38 g/m³</text>
<text transform="translate(316,583) scale(1,1.08)" fill="#000" text-anchor="end" style="font-size:11px;font-weight:bold;letter-spacing:0.3px" >92</text>
<text transform="translate(330,519) scale(1,1.08)" fill="#000" text-anchor="start" style="font-size:11px;font-weight:bold;letter-spacing:0.3px" >Luftdruck</text>
<text transform="translate(434,519) scale(1,1.08)" fill="#000" text-anchor="end" style="font-size:11px;font-weight:bold;letter-spacing:0.3px" >hPa</text>
<text transform="translate(336,535) scale(1,1.08)" fill="#000" text-anchor="start" style="font-size:11px;font-weight:normal" >19:02</text>
<text transform="translate(434,535) scale(1,1.08)" fill="#000" text-anchor="end" style="font-size:11px;font-weight:normal" >1015.8</text>
<text transform="translate(336,551) scale(1,1.08)" fill="#000" text-anchor="start" style="font-size:11px;font-weight:normal" >09:04</text>
<text transform="translate(434,551) scale(1,1.08)" fill="#000" text-anchor="end" style="font-size:11px;font-weight:normal" >1017.5</text>
<text transform="translate(330,567) scale(1,1.08)" fill="#000" text-anchor="start" style="font-size:11px;font-weight:normal" >^0.6hPa/h</text>
<text transform="translate(434,567) scale(1,1.08)" fill="#000" text-anchor="end" style="font-size:11px;font-weight:normal" >1016.6</text>
<text transform="translate(330,583) scale(1,1.08)" fill="#000" text-anchor="start" style="font-size:11px;font-weight:normal" >veränderlich</text>
<text transform="translate(434,583) scale(1,1.08)" fill="#000" text-anchor="end" style="font-size:11px;font-weight:bold;letter-spacing:0.3px" >1016.2</text>
<text transform="translate(448,519) scale(1,1.08)" fill="#000" text-anchor="start" style="font-size:11px;font-weight:bold;letter-spacing:0.3px" >Wind</text>
<text transform="translate(552,519) scale(1,1.08)" fill="#000" text-anchor="end" style="font-size:11px;font-weight:bold;letter-spacing:0.3px" >km/h</text>
<text transform="translate(448,535) scale(1,1.08)" fill="#000" text-anchor="start" style="font-size:11px;font-weight:normal" >Ø 10 min.</text>
<text transform="translate(552,535) scale(1,1.08)" fill="#000" text-anchor="end" style="font-size:11px;font-weight:normal" >17.8</text>
<text transform="translate(454,551) scale(1,1.08)" fill="#000" text-anchor="start" style="font-size:11px;font-weight:normal" >19:06</text>
<text transform="translate(552,551) scale(1,1.08)" fill="#000" text-anchor="end" style="font-size:11px;font-weight:normal" >O 23.3</text>
<text transform="translate(454,567) scale(1,1.08)" fill="#000" text-anchor="start" style="font-size:11px;font-weight:normal" >135.3 km</text>
<text transform="translate(552,567) scale(1,1.08)" fill="#000" text-anchor="end" style="font-size:11px;font-weight:normal" >5.6</text>
<text transform="translate(454,583) scale(1,1.08)" fill="#000" text-anchor="start" style="font-size:11px;font-weight:normal" >4 Bft O</text>
<text transform="translate(552,583) scale(1,1.08)" fill="#000" text-anchor="end" style="font-size:11px;font-weight:bold;letter-spacing:0.3px" >23.2</text>
<text transform="translate(566,519) scale(1,1.08)" fill="#000" text-anchor="start" style="font-size:11px;font-weight:bold;letter-spacing:0.3px" >Richtung</text>
<text transform="translate(572,535) scale(1,1.08)" fill="#000" text-anchor="start" style="font-size:11px;font-weight:normal" >09:34</text>
<text transform="translate(669,535) scale(1,1.08)" fill="#000" text-anchor="end" style="font-size:11px;font-weight:normal" >N</text>
<text transform="translate(572,551) scale(1,1.08)" fill="#000" text-anchor="start" style="font-size:11px;font-weight:normal" >20:35</text>
<text transform="translate(669,551) scale(1,1.08)" fill="#000" text-anchor="end" style="font-size:11px;font-weight:normal" >O-SO</text>
<text transform="translate(669,567) scale(1,1.08)" fill="#000" text-anchor="end" style="font-size:11px;font-weight:normal" >O-NO</text>
<text transform="translate(569,583) scale(1,1.08)" fill="#000" text-anchor="start" style="font-size:11px;font-weight:normal" >80 °</text>
<text transform="translate(669,583) scale(1,1.08)" fill="#000" text-anchor="end" style="font-size:11px;font-weight:bold;letter-spacing:0.3px" >O</text>
<text transform="translate(684,519) scale(1,1.08)" fill="#000" text-anchor="start" style="font-size:11px;font-weight:bold;letter-spacing:0.3px" >Regen</text>
<text transform="translate(788,519) scale(1,1.08)" fill="#000" text-anchor="end" style="font-size:11px;font-weight:bold;letter-spacing:0.3px" >l/m²</text>
<text transform="translate(684,535) scale(1,1.08)" fill="#000" text-anchor="start" style="font-size:11px;font-weight:normal" >0 min.</text>
<text transform="translate(690,551) scale(1,1.08)" fill="#000" text-anchor="start" style="font-size:11px;font-weight:normal" >23:59</text>
<text transform="translate(788,551) scale(1,1.08)" fill="#000" text-anchor="end" style="font-size:11px;font-weight:normal" >0.0</text>
<text transform="translate(684,567) scale(1,1.08)" fill="#000" text-anchor="start" style="font-size:11px;font-weight:normal" >Gesamt:</text>
<text transform="translate(788,567) scale(1,1.08)" fill="#000" text-anchor="end" style="font-size:11px;font-weight:normal" >0.0</text>
<text transform="translate(687,583) scale(1,1.08)" fill="#000" text-anchor="start" style="font-size:11px;font-weight:normal" >0.0 l/m²</text>
<text transform="translate(788,583) scale(1,1.08)" fill="#000" text-anchor="end" style="font-size:11px;font-weight:bold;letter-spacing:0.3px" >0.0</text>
<text transform="translate(920,519) scale(1,1.08)" fill="#000" text-anchor="start" style="font-size:11px;font-weight:bold;letter-spacing:0.3px" >PMV-1:-9</text>
<text transform="translate(920,535) scale(1,1.08)" fill="#000" text-anchor="start" style="font-size:11px;font-weight:normal" >WC -4.0 °C</text>
<text transform="translate(920,551) scale(1,1.08)" fill="#000" text-anchor="start" style="font-size:11px;font-weight:normal" >TP 4.1 °C</text>
<text transform="translate(920,567) scale(1,1.08)" fill="#000" text-anchor="start" style="font-size:11px;font-weight:normal" >-0.2hPa/3h</text>
<text transform="translate(920,583) scale(1,1.08)" fill="#000" text-anchor="start" style="font-size:11px;font-weight:normal" >-0.2hPa/1h</text>
</svg></body></html>
